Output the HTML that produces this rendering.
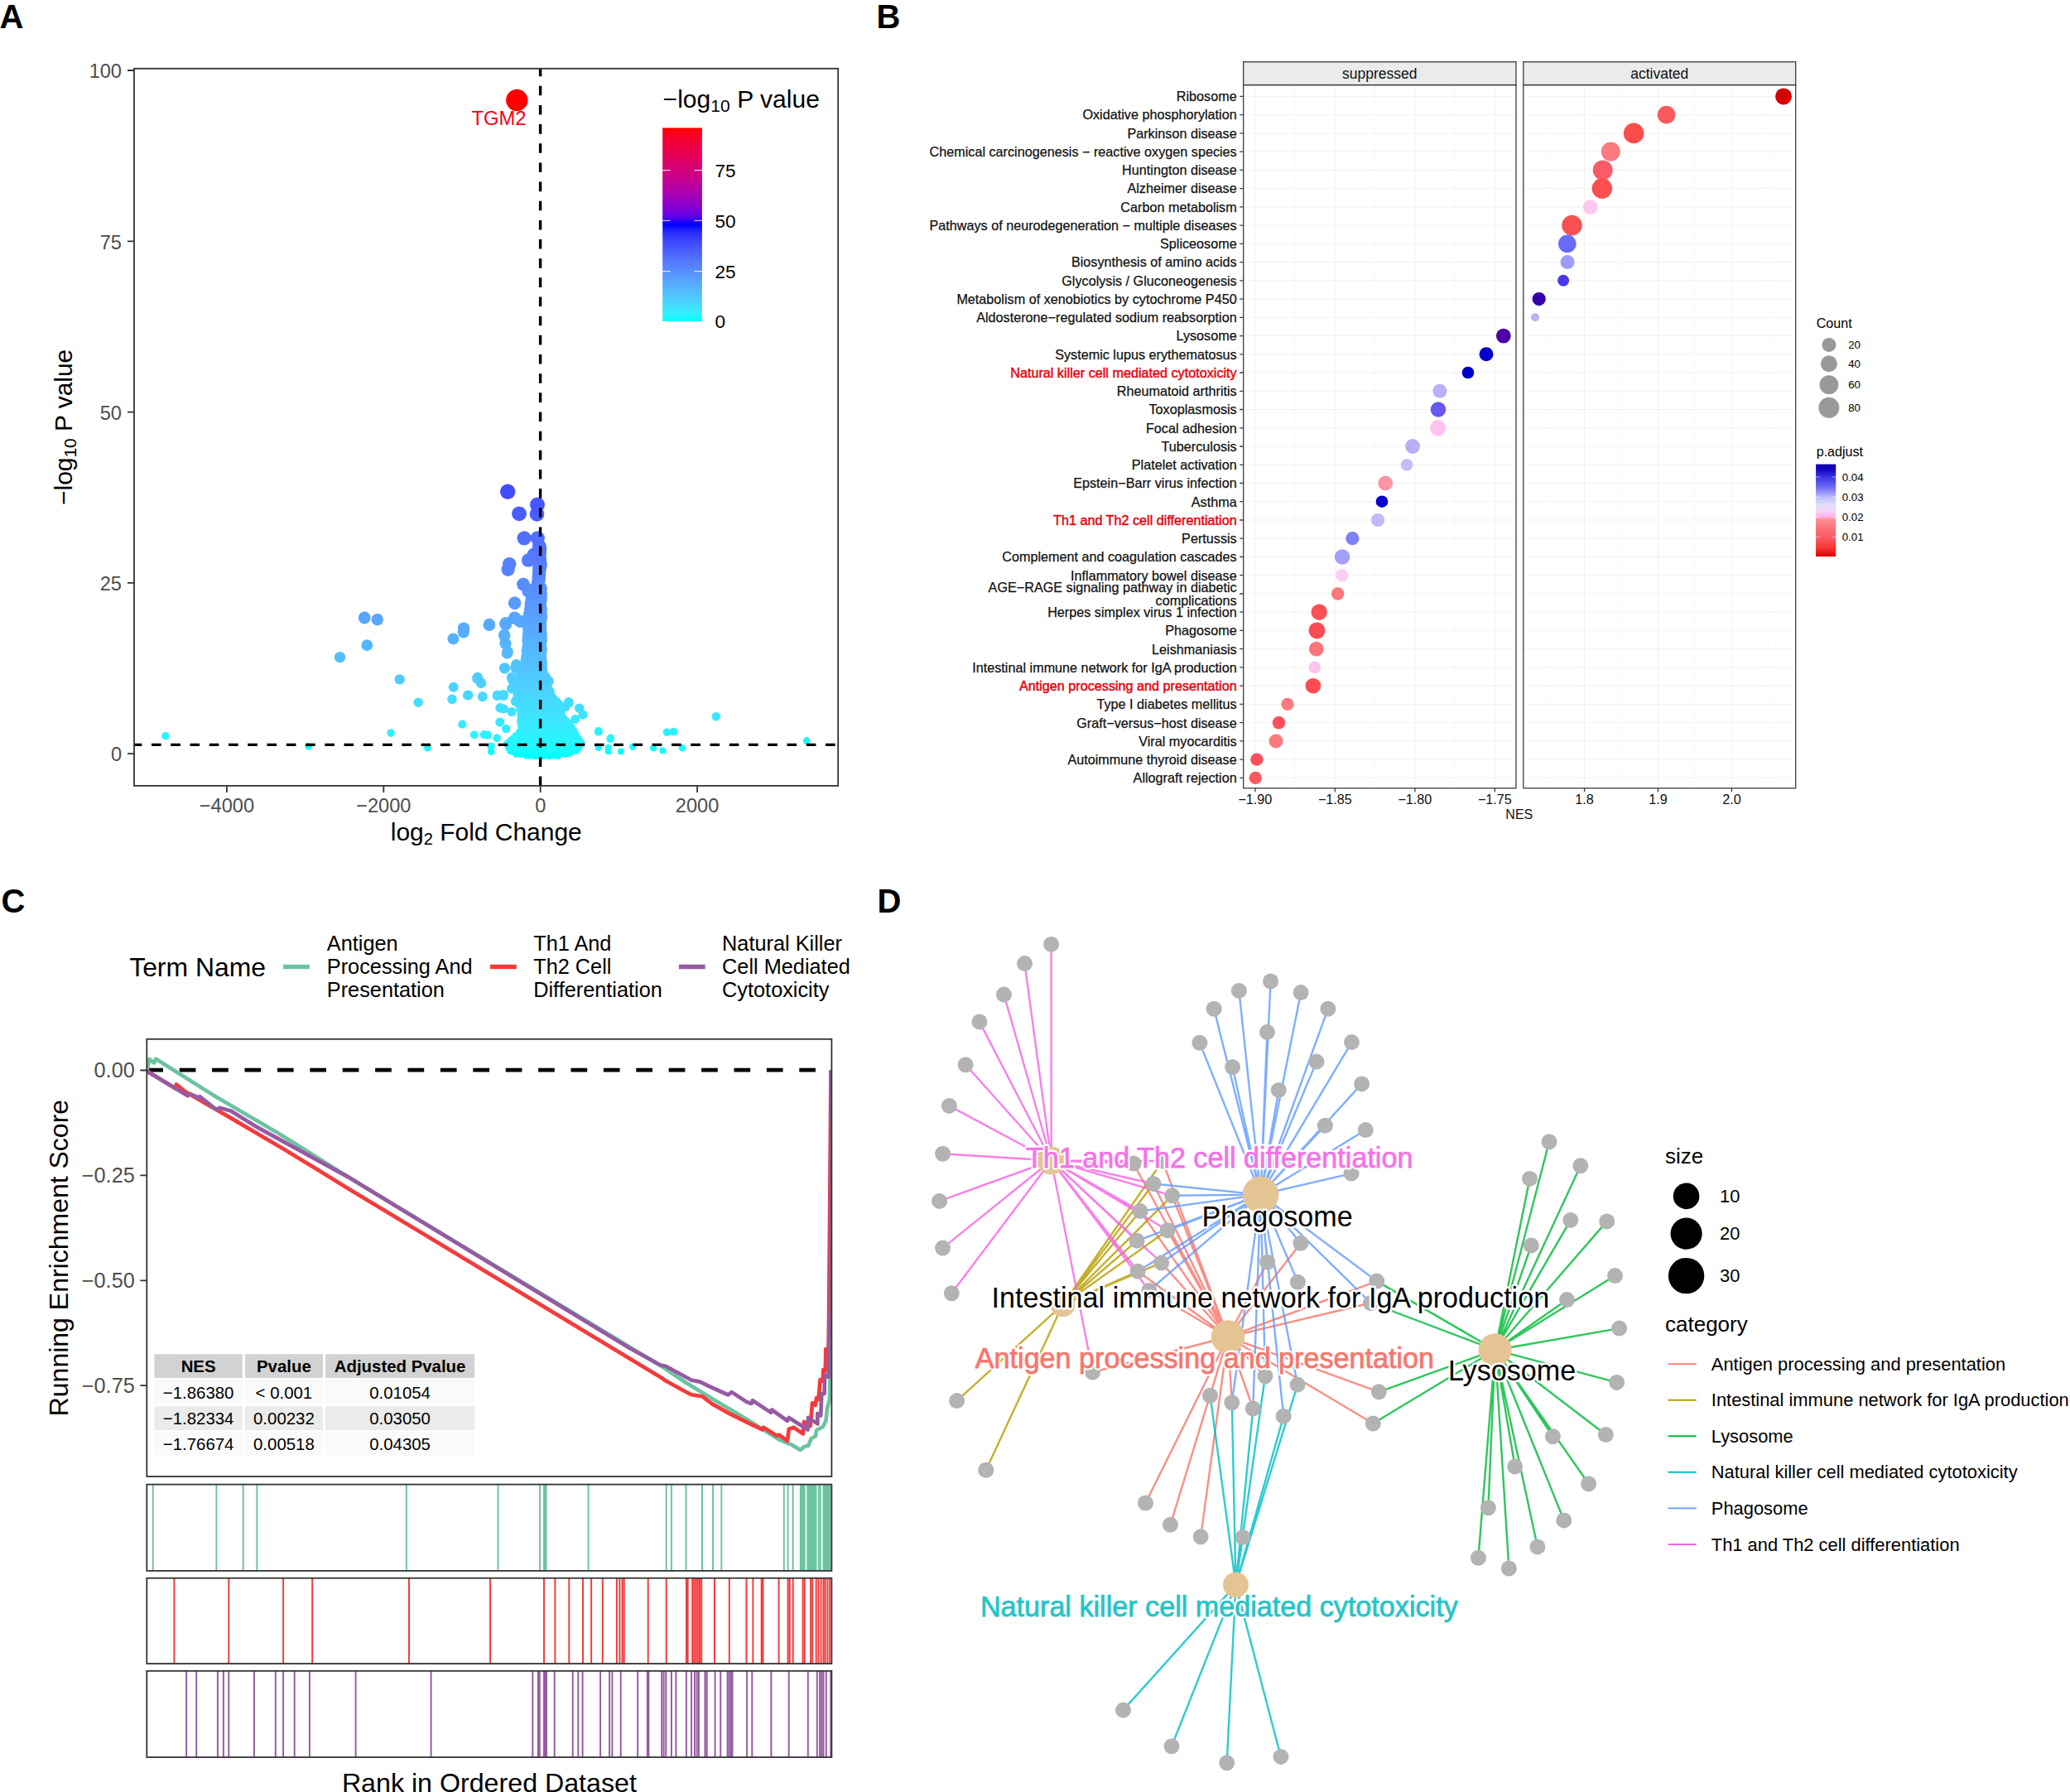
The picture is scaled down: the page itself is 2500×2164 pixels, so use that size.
<!DOCTYPE html>
<html lang="en"><head><meta charset="utf-8"><title>Figure</title>
<style>
html,body{margin:0;padding:0;background:#fff;}
body{width:2500px;height:2164px;overflow:hidden;}
svg{display:block;}
text{white-space:pre;}
</style></head><body>
<svg width="2500" height="2164" viewBox="0 0 2500 2164">
<defs><linearGradient id="gradA" x1="0" y1="0" x2="0" y2="1"><stop offset="0%" stop-color="#ff0000"/><stop offset="4.2%" stop-color="#f80025"/><stop offset="8.3%" stop-color="#f0003c"/><stop offset="12.5%" stop-color="#e80050"/><stop offset="16.7%" stop-color="#df0063"/><stop offset="20.8%" stop-color="#d50076"/><stop offset="25%" stop-color="#ca0088"/><stop offset="29.2%" stop-color="#bc009c"/><stop offset="33.3%" stop-color="#ad00af"/><stop offset="37.5%" stop-color="#9a00c3"/><stop offset="41.7%" stop-color="#8200d6"/><stop offset="45.8%" stop-color="#6000eb"/><stop offset="50%" stop-color="#0000ff"/><stop offset="54.2%" stop-color="#2b2dff"/><stop offset="58.3%" stop-color="#3d45ff"/><stop offset="62.5%" stop-color="#485aff"/><stop offset="66.7%" stop-color="#506dff"/><stop offset="70.8%" stop-color="#5580ff"/><stop offset="75%" stop-color="#5792ff"/><stop offset="79.2%" stop-color="#57a4ff"/><stop offset="83.3%" stop-color="#55b6ff"/><stop offset="87.5%" stop-color="#4fc8ff"/><stop offset="91.7%" stop-color="#45dbff"/><stop offset="95.8%" stop-color="#34edff"/><stop offset="100%" stop-color="#00ffff"/></linearGradient><clipPath id="clipA"><rect x="162" y="82.8" width="850.2" height="866.1"/></clipPath><linearGradient id="gradB" x1="0" y1="0" x2="0" y2="1"><stop offset="0%" stop-color="#0c00b0"/><stop offset="5%" stop-color="#1400c0"/><stop offset="14%" stop-color="#3c34e4"/><stop offset="25%" stop-color="#6c6cf4"/><stop offset="35.5%" stop-color="#bcbcfa"/><stop offset="43%" stop-color="#dcdcfc"/><stop offset="50%" stop-color="#f4d8fa"/><stop offset="56.5%" stop-color="#fdb4ea"/><stop offset="60%" stop-color="#fc9090"/><stop offset="70%" stop-color="#fb7078"/><stop offset="79%" stop-color="#fb5a62"/><stop offset="90%" stop-color="#f83838"/><stop offset="100%" stop-color="#e00000"/></linearGradient><clipPath id="clipC"><rect x="177.3" y="1254.8" width="827.1" height="528.2"/></clipPath></defs>
<rect width="2500" height="2164" fill="#fff"/>
<g id="panelA" font-family="'Liberation Sans', Arial, Helvetica, sans-serif">
<text x="-0.5" y="34" font-size="40" font-weight="bold" fill="#000">A</text>
<g clip-path="url(#clipA)">
<circle cx="663.2" cy="913.7" r="3.6" fill="#00ffff"/>
<circle cx="646.7" cy="913.6" r="3.6" fill="#00ffff"/>
<circle cx="656.3" cy="913.5" r="3.6" fill="#00ffff"/>
<circle cx="649.2" cy="913.5" r="3.6" fill="#00ffff"/>
<circle cx="653.7" cy="913.5" r="3.6" fill="#00ffff"/>
<circle cx="674.1" cy="913.4" r="3.6" fill="#00ffff"/>
<circle cx="639" cy="913.2" r="3.6" fill="#00ffff"/>
<circle cx="635.4" cy="913" r="3.6" fill="#00ffff"/>
<circle cx="642.8" cy="912.8" r="3.6" fill="#00ffff"/>
<circle cx="667.5" cy="912.6" r="3.6" fill="#00ffff"/>
<circle cx="670.4" cy="912.4" r="3.6" fill="#00ffff"/>
<circle cx="660.5" cy="912.2" r="3.6" fill="#00ffff"/>
<circle cx="653" cy="911.5" r="3.6" fill="#00ffff"/>
<circle cx="660.4" cy="911.3" r="3.6" fill="#00ffff"/>
<circle cx="636.3" cy="911.3" r="3.6" fill="#00ffff"/>
<circle cx="642.9" cy="911.2" r="3.6" fill="#00ffff"/>
<circle cx="629.6" cy="911.2" r="3.6" fill="#00ffff"/>
<circle cx="682.9" cy="911.2" r="3.6" fill="#00ffff"/>
<circle cx="623.2" cy="911.1" r="3.6" fill="#00ffff"/>
<circle cx="656.5" cy="911" r="3.6" fill="#00ffff"/>
<circle cx="647.1" cy="911" r="3.6" fill="#00ffff"/>
<circle cx="650" cy="910.9" r="3.6" fill="#00ffff"/>
<circle cx="633.8" cy="910.8" r="3.6" fill="#00ffff"/>
<circle cx="670.5" cy="910.6" r="3.6" fill="#00ffff"/>
<circle cx="663.4" cy="910.5" r="3.6" fill="#00ffff"/>
<circle cx="673.8" cy="910.4" r="3.6" fill="#00ffff"/>
<circle cx="626.4" cy="910.4" r="3.6" fill="#00ffff"/>
<circle cx="676.6" cy="910.4" r="3.6" fill="#00ffff"/>
<circle cx="686.5" cy="910.4" r="3.6" fill="#00ffff"/>
<circle cx="639.9" cy="910.3" r="3.6" fill="#00ffff"/>
<circle cx="680" cy="910.3" r="3.6" fill="#00ffff"/>
<circle cx="666.8" cy="910.2" r="3.6" fill="#00ffff"/>
<circle cx="679.9" cy="909.4" r="3.8" fill="#03ffff"/>
<circle cx="641.3" cy="909.4" r="3.8" fill="#03ffff"/>
<circle cx="669.6" cy="909.3" r="3.8" fill="#03ffff"/>
<circle cx="630.8" cy="909.3" r="3.8" fill="#03feff"/>
<circle cx="648" cy="909.1" r="3.8" fill="#04feff"/>
<circle cx="676.6" cy="909" r="3.8" fill="#05feff"/>
<circle cx="659.1" cy="908.9" r="3.8" fill="#05feff"/>
<circle cx="672.9" cy="908.9" r="3.8" fill="#05feff"/>
<circle cx="633.8" cy="908.8" r="3.8" fill="#05feff"/>
<circle cx="662.6" cy="908.8" r="3.8" fill="#05feff"/>
<circle cx="655" cy="908.7" r="3.8" fill="#06feff"/>
<circle cx="644.3" cy="908.7" r="3.8" fill="#06feff"/>
<circle cx="666.5" cy="908.6" r="3.8" fill="#06feff"/>
<circle cx="652.5" cy="908.6" r="3.8" fill="#06feff"/>
<circle cx="623.5" cy="908.5" r="3.8" fill="#06feff"/>
<circle cx="690.4" cy="908.5" r="3.8" fill="#07feff"/>
<circle cx="627.2" cy="908.5" r="3.8" fill="#07feff"/>
<circle cx="687.1" cy="908.4" r="3.8" fill="#07feff"/>
<circle cx="638.1" cy="908.4" r="3.8" fill="#07feff"/>
<circle cx="620.1" cy="908.2" r="3.9" fill="#08feff"/>
<circle cx="683.7" cy="907.9" r="3.9" fill="#09feff"/>
<circle cx="592.9" cy="907.8" r="3.9" fill="#09feff"/>
<circle cx="734.7" cy="907.4" r="3.9" fill="#0bfdff"/>
<circle cx="749.7" cy="907.4" r="3.9" fill="#0bfdff"/>
<circle cx="593.5" cy="907.4" r="3.9" fill="#0bfdff"/>
<circle cx="616.2" cy="907.1" r="3.9" fill="#0cfdff"/>
<circle cx="673" cy="907" r="4" fill="#0cfdff"/>
<circle cx="624.7" cy="906.9" r="4" fill="#0cfdff"/>
<circle cx="642.7" cy="906.9" r="4" fill="#0cfdff"/>
<circle cx="665.4" cy="906.8" r="4" fill="#0dfdff"/>
<circle cx="657.7" cy="906.8" r="4" fill="#0dfdff"/>
<circle cx="695.5" cy="906.7" r="4" fill="#0dfdff"/>
<circle cx="676.8" cy="906.7" r="4" fill="#0dfdff"/>
<circle cx="680.7" cy="906.7" r="4" fill="#0dfdff"/>
<circle cx="631.2" cy="906.6" r="4" fill="#0dfdff"/>
<circle cx="687.5" cy="906.6" r="4" fill="#0dfdff"/>
<circle cx="653.6" cy="906.6" r="4" fill="#0dfdff"/>
<circle cx="800.4" cy="906.5" r="4" fill="#0efdff"/>
<circle cx="646.8" cy="906.4" r="4" fill="#0efdff"/>
<circle cx="650.5" cy="906.3" r="4" fill="#0efdff"/>
<circle cx="684.2" cy="906.3" r="4" fill="#0efdff"/>
<circle cx="628.1" cy="906.3" r="4" fill="#0efdff"/>
<circle cx="662" cy="906.3" r="4" fill="#0efdff"/>
<circle cx="691" cy="906.3" r="4" fill="#0efdff"/>
<circle cx="619.9" cy="906.2" r="4" fill="#0efdff"/>
<circle cx="668.9" cy="906" r="4" fill="#0ffdff"/>
<circle cx="634.9" cy="905.9" r="4" fill="#0ffdff"/>
<circle cx="638.9" cy="905.7" r="4" fill="#10fcff"/>
<circle cx="633.8" cy="904.8" r="4.1" fill="#12fcff"/>
<circle cx="679" cy="904.7" r="4.1" fill="#12fcff"/>
<circle cx="652.2" cy="904.7" r="4.1" fill="#12fcff"/>
<circle cx="641.4" cy="904.6" r="4.1" fill="#13fcff"/>
<circle cx="656.5" cy="904.6" r="4.1" fill="#13fcff"/>
<circle cx="698" cy="904.6" r="4.1" fill="#13fcff"/>
<circle cx="645.4" cy="904.4" r="4.1" fill="#13fcff"/>
<circle cx="664.1" cy="904.3" r="4.1" fill="#13fcff"/>
<circle cx="630.7" cy="904.2" r="4.1" fill="#14fcff"/>
<circle cx="667.1" cy="904.1" r="4.1" fill="#14fcff"/>
<circle cx="637.3" cy="904.1" r="4.1" fill="#14fcff"/>
<circle cx="659.7" cy="904.1" r="4.1" fill="#14fcff"/>
<circle cx="615.1" cy="904" r="4.1" fill="#14fcff"/>
<circle cx="648.7" cy="903.9" r="4.1" fill="#14fcff"/>
<circle cx="685.9" cy="903.9" r="4.1" fill="#14fcff"/>
<circle cx="674.7" cy="903.9" r="4.1" fill="#14fbff"/>
<circle cx="626.1" cy="903.8" r="4.1" fill="#15fbff"/>
<circle cx="671.8" cy="903.8" r="4.1" fill="#15fbff"/>
<circle cx="693.5" cy="903.7" r="4.1" fill="#15fbff"/>
<circle cx="690" cy="903.7" r="4.1" fill="#15fbff"/>
<circle cx="682.1" cy="903.6" r="4.1" fill="#15fbff"/>
<circle cx="619.4" cy="903.5" r="4.1" fill="#15fbff"/>
<circle cx="623.2" cy="903.4" r="4.2" fill="#15fbff"/>
<circle cx="789.1" cy="903.3" r="4.2" fill="#16fbff"/>
<circle cx="823.9" cy="903.3" r="4.2" fill="#16fbff"/>
<circle cx="516.3" cy="903.2" r="4.2" fill="#16fbff"/>
<circle cx="722.9" cy="902.9" r="4.2" fill="#16fbff"/>
<circle cx="734.7" cy="902.9" r="4.2" fill="#16fbff"/>
<circle cx="657.1" cy="902.8" r="4.2" fill="#17fbff"/>
<circle cx="675.8" cy="902.7" r="4.2" fill="#17fbff"/>
<circle cx="672" cy="902.5" r="4.2" fill="#17fbff"/>
<circle cx="664.5" cy="902.5" r="4.2" fill="#17fbff"/>
<circle cx="691" cy="902.5" r="4.2" fill="#17fbff"/>
<circle cx="695.6" cy="902.5" r="4.2" fill="#17fbff"/>
<circle cx="633.5" cy="902.4" r="4.2" fill="#17fbff"/>
<circle cx="614" cy="902.3" r="4.2" fill="#18fbff"/>
<circle cx="637.2" cy="902.3" r="4.2" fill="#18fbff"/>
<circle cx="687.2" cy="902.2" r="4.2" fill="#18fbff"/>
<circle cx="626.2" cy="902.2" r="4.2" fill="#18fbff"/>
<circle cx="622.5" cy="902" r="4.2" fill="#18faff"/>
<circle cx="684.1" cy="902" r="4.2" fill="#18faff"/>
<circle cx="668" cy="902" r="4.2" fill="#18faff"/>
<circle cx="660" cy="902" r="4.2" fill="#18faff"/>
<circle cx="629.1" cy="901.9" r="4.2" fill="#18faff"/>
<circle cx="764.2" cy="901.8" r="4.2" fill="#19faff"/>
<circle cx="699.4" cy="901.8" r="4.2" fill="#19faff"/>
<circle cx="617.9" cy="901.7" r="4.2" fill="#19faff"/>
<circle cx="641.3" cy="901.5" r="4.2" fill="#19faff"/>
<circle cx="679.7" cy="901.5" r="4.2" fill="#19faff"/>
<circle cx="652.3" cy="901.5" r="4.2" fill="#19faff"/>
<circle cx="649.4" cy="901.5" r="4.2" fill="#19faff"/>
<circle cx="645.6" cy="901.3" r="4.3" fill="#19faff"/>
<circle cx="372.6" cy="901.3" r="4.3" fill="#1afaff"/>
<circle cx="592.4" cy="901.3" r="4.3" fill="#1afaff"/>
<circle cx="593.5" cy="900.7" r="4.3" fill="#1bfaff"/>
<circle cx="665.6" cy="900.5" r="4.3" fill="#1bfaff"/>
<circle cx="628.7" cy="900.5" r="4.3" fill="#1bfaff"/>
<circle cx="620.7" cy="900.5" r="4.3" fill="#1bfaff"/>
<circle cx="657.5" cy="900.4" r="4.3" fill="#1bfaff"/>
<circle cx="660.6" cy="900.4" r="4.3" fill="#1bfaff"/>
<circle cx="681.3" cy="900.3" r="4.3" fill="#1bfaff"/>
<circle cx="653" cy="900.3" r="4.3" fill="#1bf9ff"/>
<circle cx="677.6" cy="900.3" r="4.3" fill="#1bf9ff"/>
<circle cx="645.4" cy="900.2" r="4.3" fill="#1bf9ff"/>
<circle cx="641.4" cy="900" r="4.3" fill="#1cf9ff"/>
<circle cx="616.9" cy="900" r="4.3" fill="#1cf9ff"/>
<circle cx="648.7" cy="899.9" r="4.3" fill="#1cf9ff"/>
<circle cx="696.9" cy="899.7" r="4.3" fill="#1cf9ff"/>
<circle cx="613.3" cy="899.5" r="4.3" fill="#1df9ff"/>
<circle cx="685.3" cy="899.5" r="4.3" fill="#1df9ff"/>
<circle cx="700.5" cy="899.4" r="4.3" fill="#1df9ff"/>
<circle cx="668.7" cy="899.3" r="4.3" fill="#1df9ff"/>
<circle cx="693.4" cy="899.3" r="4.3" fill="#1df9ff"/>
<circle cx="633" cy="899.2" r="4.3" fill="#1df9ff"/>
<circle cx="688.6" cy="899.2" r="4.3" fill="#1df9ff"/>
<circle cx="636.6" cy="899.1" r="4.3" fill="#1df9ff"/>
<circle cx="672.7" cy="899.1" r="4.3" fill="#1df9ff"/>
<circle cx="624.8" cy="899" r="4.3" fill="#1df9ff"/>
<circle cx="690.3" cy="898.4" r="4.4" fill="#1ef8ff"/>
<circle cx="670.1" cy="898.3" r="4.4" fill="#1ef8ff"/>
<circle cx="681.7" cy="898.3" r="4.4" fill="#1ef8ff"/>
<circle cx="698.5" cy="898.2" r="4.4" fill="#1ff8ff"/>
<circle cx="637.5" cy="898.2" r="4.4" fill="#1ff8ff"/>
<circle cx="612.3" cy="898.2" r="4.4" fill="#1ff8ff"/>
<circle cx="694.1" cy="898.1" r="4.4" fill="#1ff8ff"/>
<circle cx="633" cy="898" r="4.4" fill="#1ff8ff"/>
<circle cx="702.2" cy="898" r="4.4" fill="#1ff8ff"/>
<circle cx="686.2" cy="897.9" r="4.4" fill="#1ff8ff"/>
<circle cx="653.2" cy="897.8" r="4.4" fill="#1ff8ff"/>
<circle cx="649.8" cy="897.6" r="4.4" fill="#1ff8ff"/>
<circle cx="617.2" cy="897.5" r="4.4" fill="#20f8ff"/>
<circle cx="621.3" cy="897.5" r="4.4" fill="#20f8ff"/>
<circle cx="645.4" cy="897.5" r="4.4" fill="#20f8ff"/>
<circle cx="678.4" cy="897.3" r="4.4" fill="#20f8ff"/>
<circle cx="674.1" cy="897.3" r="4.4" fill="#20f8ff"/>
<circle cx="641.6" cy="897.2" r="4.4" fill="#20f8ff"/>
<circle cx="665.4" cy="897.2" r="4.4" fill="#20f8ff"/>
<circle cx="658.1" cy="897.1" r="4.4" fill="#20f8ff"/>
<circle cx="624.7" cy="897" r="4.4" fill="#20f8ff"/>
<circle cx="628.8" cy="896.9" r="4.4" fill="#20f8ff"/>
<circle cx="662.1" cy="896.8" r="4.4" fill="#21f8ff"/>
<circle cx="619" cy="896.1" r="4.5" fill="#22f7ff"/>
<circle cx="655.7" cy="896" r="4.5" fill="#22f7ff"/>
<circle cx="696" cy="896" r="4.5" fill="#22f7ff"/>
<circle cx="632.1" cy="895.9" r="4.5" fill="#22f7ff"/>
<circle cx="667.6" cy="895.8" r="4.5" fill="#22f7ff"/>
<circle cx="652.4" cy="895.8" r="4.5" fill="#22f7ff"/>
<circle cx="700.9" cy="895.7" r="4.5" fill="#22f7ff"/>
<circle cx="639.2" cy="895.6" r="4.5" fill="#22f7ff"/>
<circle cx="684.4" cy="895.6" r="4.5" fill="#22f7ff"/>
<circle cx="627.1" cy="895.6" r="4.5" fill="#22f7ff"/>
<circle cx="679.9" cy="895.6" r="4.5" fill="#22f7ff"/>
<circle cx="671.6" cy="895.5" r="4.5" fill="#22f7ff"/>
<circle cx="659.5" cy="895.5" r="4.5" fill="#22f7ff"/>
<circle cx="615.6" cy="895.4" r="4.5" fill="#22f7ff"/>
<circle cx="648" cy="895.3" r="4.5" fill="#23f7ff"/>
<circle cx="643.9" cy="895.2" r="4.5" fill="#23f7ff"/>
<circle cx="692.2" cy="895.1" r="4.5" fill="#23f7ff"/>
<circle cx="635.6" cy="895" r="4.5" fill="#23f7ff"/>
<circle cx="664" cy="895" r="4.5" fill="#23f7ff"/>
<circle cx="688.8" cy="894.9" r="4.5" fill="#23f6ff"/>
<circle cx="623.2" cy="894.8" r="4.5" fill="#23f6ff"/>
<circle cx="676.8" cy="894.8" r="4.5" fill="#23f6ff"/>
<circle cx="974.3" cy="894.6" r="4.5" fill="#24f6ff"/>
<circle cx="617.5" cy="894" r="4.5" fill="#24f6ff"/>
<circle cx="652.2" cy="894" r="4.5" fill="#24f6ff"/>
<circle cx="673.3" cy="893.8" r="4.5" fill="#24f6ff"/>
<circle cx="634.8" cy="893.6" r="4.5" fill="#25f6ff"/>
<circle cx="656.4" cy="893.5" r="4.6" fill="#25f6ff"/>
<circle cx="694.2" cy="893.3" r="4.6" fill="#25f6ff"/>
<circle cx="631.3" cy="893.3" r="4.6" fill="#25f6ff"/>
<circle cx="669.2" cy="893.1" r="4.6" fill="#25f5ff"/>
<circle cx="622.4" cy="893" r="4.6" fill="#25f5ff"/>
<circle cx="689.9" cy="893" r="4.6" fill="#25f5ff"/>
<circle cx="685.5" cy="893" r="4.6" fill="#25f5ff"/>
<circle cx="626.8" cy="892.8" r="4.6" fill="#26f5ff"/>
<circle cx="648.1" cy="892.8" r="4.6" fill="#26f5ff"/>
<circle cx="677.1" cy="892.8" r="4.6" fill="#26f5ff"/>
<circle cx="698.9" cy="892.7" r="4.6" fill="#26f5ff"/>
<circle cx="639.2" cy="892.7" r="4.6" fill="#26f5ff"/>
<circle cx="664.2" cy="892.6" r="4.6" fill="#26f5ff"/>
<circle cx="643.8" cy="892.5" r="4.6" fill="#26f5ff"/>
<circle cx="682" cy="892.4" r="4.6" fill="#26f5ff"/>
<circle cx="660.3" cy="892.4" r="4.6" fill="#26f5ff"/>
<circle cx="737" cy="892.4" r="4.6" fill="#26f5ff"/>
<circle cx="620.1" cy="891.8" r="4.6" fill="#27f5ff"/>
<circle cx="624.8" cy="891.7" r="4.6" fill="#27f5ff"/>
<circle cx="671.2" cy="891.7" r="4.6" fill="#27f5ff"/>
<circle cx="633.6" cy="891.7" r="4.6" fill="#27f5ff"/>
<circle cx="654.6" cy="891.7" r="4.6" fill="#27f5ff"/>
<circle cx="676.1" cy="891.6" r="4.6" fill="#27f5ff"/>
<circle cx="697.2" cy="891.6" r="4.6" fill="#27f5ff"/>
<circle cx="679.7" cy="891.5" r="4.6" fill="#27f5ff"/>
<circle cx="600.1" cy="891.4" r="4.6" fill="#27f5ff"/>
<circle cx="600.2" cy="891.2" r="4.6" fill="#27f4ff"/>
<circle cx="737.5" cy="891.2" r="4.6" fill="#27f4ff"/>
<circle cx="693.3" cy="891.1" r="4.6" fill="#28f4ff"/>
<circle cx="683.9" cy="891" r="4.6" fill="#28f4ff"/>
<circle cx="688.8" cy="890.8" r="4.6" fill="#28f4ff"/>
<circle cx="637" cy="890.8" r="4.6" fill="#28f4ff"/>
<circle cx="663.1" cy="890.7" r="4.6" fill="#28f4ff"/>
<circle cx="646.5" cy="890.6" r="4.6" fill="#28f4ff"/>
<circle cx="658.5" cy="890.6" r="4.6" fill="#28f4ff"/>
<circle cx="666.8" cy="890.5" r="4.7" fill="#28f4ff"/>
<circle cx="629.5" cy="890.5" r="4.7" fill="#28f4ff"/>
<circle cx="642.1" cy="890.5" r="4.7" fill="#28f4ff"/>
<circle cx="650.7" cy="890.4" r="4.7" fill="#28f4ff"/>
<circle cx="691.8" cy="889.6" r="4.7" fill="#29f4ff"/>
<circle cx="696" cy="889.3" r="4.7" fill="#29f3ff"/>
<circle cx="644.7" cy="889.2" r="4.7" fill="#2af3ff"/>
<circle cx="674.6" cy="889.2" r="4.7" fill="#2af3ff"/>
<circle cx="627.2" cy="889.1" r="4.7" fill="#2af3ff"/>
<circle cx="635.3" cy="889" r="4.7" fill="#2af3ff"/>
<circle cx="623" cy="888.9" r="4.7" fill="#2af3ff"/>
<circle cx="199.9" cy="888.7" r="4.7" fill="#2af3ff"/>
<circle cx="661" cy="888.7" r="4.7" fill="#2af3ff"/>
<circle cx="631.5" cy="888.7" r="4.7" fill="#2af3ff"/>
<circle cx="656.8" cy="888.7" r="4.7" fill="#2af3ff"/>
<circle cx="682.9" cy="888.6" r="4.7" fill="#2af3ff"/>
<circle cx="640.1" cy="888.4" r="4.7" fill="#2af3ff"/>
<circle cx="648.6" cy="888.3" r="4.7" fill="#2af3ff"/>
<circle cx="687.7" cy="888.2" r="4.7" fill="#2bf3ff"/>
<circle cx="652.9" cy="888.2" r="4.7" fill="#2bf3ff"/>
<circle cx="670.2" cy="888.1" r="4.7" fill="#2bf3ff"/>
<circle cx="678.6" cy="888.1" r="4.7" fill="#2bf3ff"/>
<circle cx="665.8" cy="888.1" r="4.7" fill="#2bf3ff"/>
<circle cx="589.2" cy="888" r="4.7" fill="#2bf3ff"/>
<circle cx="572.8" cy="887.5" r="4.7" fill="#2bf2ff"/>
<circle cx="584.4" cy="887.5" r="4.7" fill="#2bf2ff"/>
<circle cx="626.1" cy="887.4" r="4.8" fill="#2bf2ff"/>
<circle cx="572.8" cy="887.3" r="4.8" fill="#2bf2ff"/>
<circle cx="589" cy="887.3" r="4.8" fill="#2bf2ff"/>
<circle cx="673.3" cy="887.2" r="4.8" fill="#2bf2ff"/>
<circle cx="651.3" cy="887.2" r="4.8" fill="#2cf2ff"/>
<circle cx="639" cy="886.8" r="4.8" fill="#2cf2ff"/>
<circle cx="584.6" cy="886.8" r="4.8" fill="#2cf2ff"/>
<circle cx="676.7" cy="886.7" r="4.8" fill="#2cf2ff"/>
<circle cx="690.3" cy="886.7" r="4.8" fill="#2cf2ff"/>
<circle cx="659.7" cy="886.4" r="4.8" fill="#2cf2ff"/>
<circle cx="634.7" cy="886.4" r="4.8" fill="#2cf2ff"/>
<circle cx="664.4" cy="886.4" r="4.8" fill="#2cf2ff"/>
<circle cx="694.7" cy="886.3" r="4.8" fill="#2cf2ff"/>
<circle cx="668.2" cy="886.2" r="4.8" fill="#2cf2ff"/>
<circle cx="647.5" cy="886.2" r="4.8" fill="#2df2ff"/>
<circle cx="656.1" cy="886.1" r="4.8" fill="#2df2ff"/>
<circle cx="643.2" cy="886.1" r="4.8" fill="#2df2ff"/>
<circle cx="686.3" cy="886" r="4.8" fill="#2df2ff"/>
<circle cx="629.9" cy="885.9" r="4.8" fill="#2df1ff"/>
<circle cx="681.9" cy="885.9" r="4.8" fill="#2df1ff"/>
<circle cx="689.1" cy="885.1" r="4.8" fill="#2df1ff"/>
<circle cx="472.1" cy="885.1" r="4.8" fill="#2df1ff"/>
<circle cx="679.4" cy="885.1" r="4.8" fill="#2df1ff"/>
<circle cx="660.9" cy="885.1" r="4.8" fill="#2ef1ff"/>
<circle cx="636.9" cy="885" r="4.8" fill="#2ef1ff"/>
<circle cx="646.7" cy="885" r="4.8" fill="#2ef1ff"/>
<circle cx="642" cy="884.9" r="4.8" fill="#2ef1ff"/>
<circle cx="664.9" cy="884.6" r="4.8" fill="#2ef1ff"/>
<circle cx="655.5" cy="884.5" r="4.8" fill="#2ef1ff"/>
<circle cx="669.9" cy="884.4" r="4.8" fill="#2ef1ff"/>
<circle cx="683.6" cy="884.4" r="4.8" fill="#2ef1ff"/>
<circle cx="805.4" cy="884.3" r="4.8" fill="#2ef1ff"/>
<circle cx="674.3" cy="884.1" r="4.8" fill="#2ef0ff"/>
<circle cx="633.1" cy="883.9" r="4.9" fill="#2ff0ff"/>
<circle cx="628" cy="883.9" r="4.9" fill="#2ff0ff"/>
<circle cx="651.4" cy="883.9" r="4.9" fill="#2ff0ff"/>
<circle cx="693" cy="883.8" r="4.9" fill="#2ff0ff"/>
<circle cx="813.5" cy="883.7" r="4.9" fill="#2ff0ff"/>
<circle cx="722.8" cy="883.7" r="4.9" fill="#2ff0ff"/>
<circle cx="692.6" cy="883" r="4.9" fill="#2ff0ff"/>
<circle cx="677.8" cy="882.9" r="4.9" fill="#2ff0ff"/>
<circle cx="722.9" cy="882.9" r="4.9" fill="#2ff0ff"/>
<circle cx="668.1" cy="882.5" r="4.9" fill="#30f0ff"/>
<circle cx="682.5" cy="882.3" r="4.9" fill="#30f0ff"/>
<circle cx="658.9" cy="882.3" r="4.9" fill="#30efff"/>
<circle cx="650" cy="882.3" r="4.9" fill="#30efff"/>
<circle cx="687.3" cy="882.1" r="4.9" fill="#30efff"/>
<circle cx="634.8" cy="881.9" r="4.9" fill="#30efff"/>
<circle cx="673.2" cy="881.9" r="4.9" fill="#30efff"/>
<circle cx="630.9" cy="881.7" r="4.9" fill="#30efff"/>
<circle cx="644.6" cy="881.7" r="4.9" fill="#30efff"/>
<circle cx="640.4" cy="881.7" r="4.9" fill="#30efff"/>
<circle cx="653.8" cy="881.6" r="4.9" fill="#31efff"/>
<circle cx="664" cy="881.5" r="4.9" fill="#31efff"/>
<circle cx="640.2" cy="880.7" r="4.9" fill="#31efff"/>
<circle cx="635.1" cy="880.5" r="4.9" fill="#31efff"/>
<circle cx="667.3" cy="880.4" r="4.9" fill="#31eeff"/>
<circle cx="677" cy="880.2" r="5" fill="#32eeff"/>
<circle cx="690.5" cy="880.2" r="5" fill="#32eeff"/>
<circle cx="654.2" cy="880.1" r="5" fill="#32eeff"/>
<circle cx="611.3" cy="880.1" r="5" fill="#32eeff"/>
<circle cx="611" cy="880" r="5" fill="#32eeff"/>
<circle cx="663.4" cy="879.9" r="5" fill="#32eeff"/>
<circle cx="658.8" cy="879.8" r="5" fill="#32eeff"/>
<circle cx="681.2" cy="879.8" r="5" fill="#32eeff"/>
<circle cx="643.8" cy="879.7" r="5" fill="#32eeff"/>
<circle cx="685.7" cy="879.5" r="5" fill="#32eeff"/>
<circle cx="648.6" cy="879.5" r="5" fill="#32eeff"/>
<circle cx="672.8" cy="879.4" r="5" fill="#32eeff"/>
<circle cx="631" cy="879.4" r="5" fill="#32eeff"/>
<circle cx="680.1" cy="878.6" r="5" fill="#33edff"/>
<circle cx="670.7" cy="878.4" r="5" fill="#33edff"/>
<circle cx="644" cy="878.4" r="5" fill="#33edff"/>
<circle cx="639.2" cy="878.1" r="5" fill="#33edff"/>
<circle cx="689.7" cy="878" r="5" fill="#33edff"/>
<circle cx="630.2" cy="877.7" r="5" fill="#34edff"/>
<circle cx="634.2" cy="877.7" r="5" fill="#34edff"/>
<circle cx="657.5" cy="877.6" r="5" fill="#34edff"/>
<circle cx="675.7" cy="877.5" r="5" fill="#34edff"/>
<circle cx="653.2" cy="877.5" r="5" fill="#34edff"/>
<circle cx="666.2" cy="877.4" r="5" fill="#34edff"/>
<circle cx="684.8" cy="877.4" r="5" fill="#34edff"/>
<circle cx="662.2" cy="877.3" r="5" fill="#34edff"/>
<circle cx="648.4" cy="877.2" r="5" fill="#34edff"/>
<circle cx="678.6" cy="876.4" r="5.1" fill="#34ecff"/>
<circle cx="673.1" cy="876.4" r="5.1" fill="#34ecff"/>
<circle cx="639.6" cy="876" r="5.1" fill="#35ecff"/>
<circle cx="658.3" cy="876" r="5.1" fill="#35ecff"/>
<circle cx="634.7" cy="876" r="5.1" fill="#35ecff"/>
<circle cx="667.9" cy="875.7" r="5.1" fill="#35ecff"/>
<circle cx="687.4" cy="875.6" r="5.1" fill="#35ecff"/>
<circle cx="648.7" cy="875.4" r="5.1" fill="#35ecff"/>
<circle cx="644.2" cy="875.3" r="5.1" fill="#35ecff"/>
<circle cx="630" cy="875.1" r="5.1" fill="#35ecff"/>
<circle cx="682.8" cy="874.9" r="5.1" fill="#35ebff"/>
<circle cx="654.2" cy="874.9" r="5.1" fill="#36ebff"/>
<circle cx="663.3" cy="874.9" r="5.1" fill="#36ebff"/>
<circle cx="558.3" cy="874.7" r="5.1" fill="#36ebff"/>
<circle cx="677.2" cy="874.1" r="5.1" fill="#36ebff"/>
<circle cx="634.3" cy="874" r="5.1" fill="#36ebff"/>
<circle cx="657.1" cy="873.8" r="5.1" fill="#36ebff"/>
<circle cx="647.9" cy="873.7" r="5.1" fill="#36ebff"/>
<circle cx="662.9" cy="873.6" r="5.1" fill="#36ebff"/>
<circle cx="644" cy="873.6" r="5.1" fill="#36ebff"/>
<circle cx="686.1" cy="873.4" r="5.1" fill="#37ebff"/>
<circle cx="671.6" cy="873.4" r="5.1" fill="#37ebff"/>
<circle cx="652.7" cy="873" r="5.1" fill="#37eaff"/>
<circle cx="638.5" cy="873" r="5.1" fill="#37eaff"/>
<circle cx="629.7" cy="873" r="5.1" fill="#37eaff"/>
<circle cx="681.3" cy="873" r="5.1" fill="#37eaff"/>
<circle cx="667.7" cy="872.6" r="5.2" fill="#37eaff"/>
<circle cx="603.5" cy="872.3" r="5.2" fill="#37eaff"/>
<circle cx="658.9" cy="871.9" r="5.2" fill="#38eaff"/>
<circle cx="644.1" cy="871.7" r="5.2" fill="#38eaff"/>
<circle cx="673.7" cy="871.7" r="5.2" fill="#38eaff"/>
<circle cx="604" cy="871.6" r="5.2" fill="#38eaff"/>
<circle cx="653.6" cy="871.2" r="5.2" fill="#38e9ff"/>
<circle cx="649.6" cy="871.1" r="5.2" fill="#38e9ff"/>
<circle cx="663.6" cy="871" r="5.2" fill="#38e9ff"/>
<circle cx="629.3" cy="871" r="5.2" fill="#38e9ff"/>
<circle cx="640" cy="870.7" r="5.2" fill="#38e9ff"/>
<circle cx="635" cy="870.6" r="5.2" fill="#38e9ff"/>
<circle cx="683.1" cy="870.5" r="5.2" fill="#38e9ff"/>
<circle cx="679" cy="870.5" r="5.2" fill="#38e9ff"/>
<circle cx="669.4" cy="870.4" r="5.2" fill="#38e9ff"/>
<circle cx="650.7" cy="869.8" r="5.2" fill="#39e9ff"/>
<circle cx="629.6" cy="869.8" r="5.2" fill="#39e9ff"/>
<circle cx="660.2" cy="869.7" r="5.2" fill="#39e9ff"/>
<circle cx="645.8" cy="869.6" r="5.2" fill="#39e8ff"/>
<circle cx="639.6" cy="868.8" r="5.2" fill="#39e8ff"/>
<circle cx="671" cy="868.8" r="5.2" fill="#39e8ff"/>
<circle cx="675.8" cy="868.7" r="5.2" fill="#3ae8ff"/>
<circle cx="656" cy="868.7" r="5.2" fill="#3ae8ff"/>
<circle cx="694.6" cy="868.5" r="5.3" fill="#3ae8ff"/>
<circle cx="695" cy="868.3" r="5.3" fill="#3ae8ff"/>
<circle cx="634.6" cy="868.3" r="5.3" fill="#3ae8ff"/>
<circle cx="666" cy="868.3" r="5.3" fill="#3ae8ff"/>
<circle cx="680.6" cy="868.2" r="5.3" fill="#3ae8ff"/>
<circle cx="659.1" cy="867.5" r="5.3" fill="#3ae7ff"/>
<circle cx="674" cy="867.5" r="5.3" fill="#3ae7ff"/>
<circle cx="654.1" cy="867.2" r="5.3" fill="#3ae7ff"/>
<circle cx="635.5" cy="867.2" r="5.3" fill="#3ae7ff"/>
<circle cx="668.7" cy="866.7" r="5.3" fill="#3be7ff"/>
<circle cx="678.2" cy="866.6" r="5.3" fill="#3be7ff"/>
<circle cx="645.4" cy="866.5" r="5.3" fill="#3be7ff"/>
<circle cx="650" cy="866.4" r="5.3" fill="#3be7ff"/>
<circle cx="640" cy="866.3" r="5.3" fill="#3be7ff"/>
<circle cx="630.5" cy="866.3" r="5.3" fill="#3be7ff"/>
<circle cx="664.1" cy="866.3" r="5.3" fill="#3be7ff"/>
<circle cx="667.7" cy="865.3" r="5.3" fill="#3ce6ff"/>
<circle cx="864.8" cy="865.2" r="5.3" fill="#3ce6ff"/>
<circle cx="646.8" cy="864.9" r="5.3" fill="#3ce6ff"/>
<circle cx="656.8" cy="864.9" r="5.3" fill="#3ce6ff"/>
<circle cx="630.9" cy="864.8" r="5.3" fill="#3ce6ff"/>
<circle cx="636.1" cy="864.6" r="5.3" fill="#3ce6ff"/>
<circle cx="677.9" cy="864.5" r="5.3" fill="#3ce6ff"/>
<circle cx="662.1" cy="864.2" r="5.4" fill="#3ce6ff"/>
<circle cx="640.6" cy="864.2" r="5.4" fill="#3ce5ff"/>
<circle cx="672.4" cy="863.9" r="5.4" fill="#3ce5ff"/>
<circle cx="651.3" cy="863.8" r="5.4" fill="#3ce5ff"/>
<circle cx="704" cy="863.3" r="5.4" fill="#3de5ff"/>
<circle cx="635.3" cy="863.1" r="5.4" fill="#3de5ff"/>
<circle cx="704.3" cy="863" r="5.4" fill="#3de5ff"/>
<circle cx="629.8" cy="862.9" r="5.4" fill="#3de5ff"/>
<circle cx="651.5" cy="862.7" r="5.4" fill="#3de5ff"/>
<circle cx="661.8" cy="862.5" r="5.4" fill="#3de5ff"/>
<circle cx="677.2" cy="862.3" r="5.4" fill="#3de4ff"/>
<circle cx="641" cy="862.1" r="5.4" fill="#3de4ff"/>
<circle cx="645.6" cy="862" r="5.4" fill="#3de4ff"/>
<circle cx="666.9" cy="862" r="5.4" fill="#3de4ff"/>
<circle cx="656.1" cy="861.7" r="5.4" fill="#3ee4ff"/>
<circle cx="672.3" cy="861.6" r="5.4" fill="#3ee4ff"/>
<circle cx="640.6" cy="860.9" r="5.4" fill="#3ee4ff"/>
<circle cx="646.3" cy="860.8" r="5.4" fill="#3ee4ff"/>
<circle cx="671.9" cy="860.6" r="5.4" fill="#3ee4ff"/>
<circle cx="667.1" cy="860.6" r="5.4" fill="#3ee3ff"/>
<circle cx="661.4" cy="860.5" r="5.4" fill="#3ee3ff"/>
<circle cx="676.8" cy="860.3" r="5.4" fill="#3ee3ff"/>
<circle cx="630.9" cy="860.2" r="5.4" fill="#3ee3ff"/>
<circle cx="651.6" cy="859.8" r="5.5" fill="#3fe3ff"/>
<circle cx="655.8" cy="859.6" r="5.5" fill="#3fe3ff"/>
<circle cx="618" cy="859.5" r="5.5" fill="#3fe3ff"/>
<circle cx="618" cy="859.4" r="5.5" fill="#3fe3ff"/>
<circle cx="635.7" cy="859.4" r="5.5" fill="#3fe3ff"/>
<circle cx="666.6" cy="858.6" r="5.5" fill="#3fe2ff"/>
<circle cx="675.7" cy="858.3" r="5.5" fill="#3fe2ff"/>
<circle cx="645.5" cy="858.2" r="5.5" fill="#3fe2ff"/>
<circle cx="660.8" cy="857.9" r="5.5" fill="#3fe2ff"/>
<circle cx="630" cy="857.7" r="5.5" fill="#40e2ff"/>
<circle cx="634.7" cy="857.6" r="5.5" fill="#40e2ff"/>
<circle cx="655.5" cy="857.6" r="5.5" fill="#40e2ff"/>
<circle cx="651.1" cy="857.5" r="5.5" fill="#40e2ff"/>
<circle cx="640.9" cy="857.4" r="5.5" fill="#40e2ff"/>
<circle cx="671.6" cy="857.2" r="5.5" fill="#40e2ff"/>
<circle cx="640.1" cy="856.6" r="5.5" fill="#40e1ff"/>
<circle cx="629" cy="856.4" r="5.5" fill="#40e1ff"/>
<circle cx="665.5" cy="856.4" r="5.5" fill="#40e1ff"/>
<circle cx="608.3" cy="855.9" r="5.5" fill="#40e1ff"/>
<circle cx="675.6" cy="855.8" r="5.5" fill="#40e1ff"/>
<circle cx="670.8" cy="855.7" r="5.5" fill="#41e1ff"/>
<circle cx="700" cy="855.4" r="5.5" fill="#41e1ff"/>
<circle cx="659.9" cy="855.4" r="5.5" fill="#41e1ff"/>
<circle cx="634.5" cy="855.4" r="5.5" fill="#41e1ff"/>
<circle cx="644.7" cy="855.2" r="5.5" fill="#41e1ff"/>
<circle cx="654.9" cy="855.1" r="5.6" fill="#41e0ff"/>
<circle cx="649.6" cy="855.1" r="5.6" fill="#41e0ff"/>
<circle cx="604.6" cy="855" r="5.6" fill="#41e0ff"/>
<circle cx="699.5" cy="855" r="5.6" fill="#41e0ff"/>
<circle cx="604" cy="854.7" r="5.6" fill="#41e0ff"/>
<circle cx="654.2" cy="854" r="5.6" fill="#41e0ff"/>
<circle cx="682.8" cy="853.8" r="5.6" fill="#41e0ff"/>
<circle cx="634" cy="853.8" r="5.6" fill="#41e0ff"/>
<circle cx="628.8" cy="853.5" r="5.6" fill="#42e0ff"/>
<circle cx="670" cy="853.4" r="5.6" fill="#42e0ff"/>
<circle cx="649.2" cy="853.3" r="5.6" fill="#42e0ff"/>
<circle cx="664.9" cy="853.3" r="5.6" fill="#42dfff"/>
<circle cx="660.1" cy="853.2" r="5.6" fill="#42dfff"/>
<circle cx="674.7" cy="853.1" r="5.6" fill="#42dfff"/>
<circle cx="644.6" cy="853" r="5.6" fill="#42dfff"/>
<circle cx="638.6" cy="852.9" r="5.6" fill="#42dfff"/>
<circle cx="677.2" cy="852.7" r="5.6" fill="#42dfff"/>
<circle cx="653.6" cy="852.1" r="5.6" fill="#42dfff"/>
<circle cx="637.9" cy="852.1" r="5.6" fill="#42dfff"/>
<circle cx="664.3" cy="852.1" r="5.6" fill="#42dfff"/>
<circle cx="632.5" cy="851.9" r="5.6" fill="#42dfff"/>
<circle cx="659.4" cy="851.9" r="5.6" fill="#42dfff"/>
<circle cx="669.8" cy="851.5" r="5.6" fill="#42deff"/>
<circle cx="643" cy="851" r="5.6" fill="#43deff"/>
<circle cx="648.5" cy="850.9" r="5.6" fill="#43deff"/>
<circle cx="674.7" cy="850.7" r="5.6" fill="#43deff"/>
<circle cx="627.5" cy="850.7" r="5.6" fill="#43deff"/>
<circle cx="632.7" cy="849.7" r="5.7" fill="#43deff"/>
<circle cx="638" cy="849.6" r="5.7" fill="#43ddff"/>
<circle cx="650.5" cy="849.5" r="5.7" fill="#43ddff"/>
<circle cx="667.7" cy="849.3" r="5.7" fill="#43ddff"/>
<circle cx="672.6" cy="849.1" r="5.7" fill="#44ddff"/>
<circle cx="661.2" cy="849" r="5.7" fill="#44ddff"/>
<circle cx="626.8" cy="849" r="5.7" fill="#44ddff"/>
<circle cx="687" cy="848.9" r="5.7" fill="#44ddff"/>
<circle cx="656.2" cy="848.9" r="5.7" fill="#44ddff"/>
<circle cx="644.7" cy="848.6" r="5.7" fill="#44ddff"/>
<circle cx="505.2" cy="848.2" r="5.7" fill="#44ddff"/>
<circle cx="686.7" cy="847.7" r="5.7" fill="#44dcff"/>
<circle cx="653.9" cy="847.6" r="5.7" fill="#44dcff"/>
<circle cx="649.2" cy="847.3" r="5.7" fill="#44dcff"/>
<circle cx="622.5" cy="847.1" r="5.7" fill="#44dcff"/>
<circle cx="671.6" cy="847.1" r="5.7" fill="#44dcff"/>
<circle cx="626.4" cy="847.1" r="5.7" fill="#44dcff"/>
<circle cx="631.8" cy="847" r="5.7" fill="#44dcff"/>
<circle cx="643.6" cy="847" r="5.7" fill="#44dcff"/>
<circle cx="664.7" cy="847" r="5.7" fill="#44dcff"/>
<circle cx="670.7" cy="846.7" r="5.7" fill="#45dcff"/>
<circle cx="638.3" cy="846.4" r="5.7" fill="#45dcff"/>
<circle cx="659.7" cy="846.2" r="5.7" fill="#45dcff"/>
<circle cx="658.5" cy="845.5" r="5.7" fill="#45dbff"/>
<circle cx="668.5" cy="845.5" r="5.7" fill="#45dbff"/>
<circle cx="648.1" cy="845.5" r="5.7" fill="#45dbff"/>
<circle cx="631.6" cy="844.7" r="5.8" fill="#45dbff"/>
<circle cx="652.3" cy="844.7" r="5.8" fill="#45dbff"/>
<circle cx="626.4" cy="844.5" r="5.8" fill="#45dbff"/>
<circle cx="663.4" cy="844.4" r="5.8" fill="#45dbff"/>
<circle cx="642.7" cy="844.3" r="5.8" fill="#45dbff"/>
<circle cx="546" cy="844.3" r="5.8" fill="#45dbff"/>
<circle cx="636.8" cy="844.2" r="5.8" fill="#46daff"/>
<circle cx="667.1" cy="842.9" r="5.8" fill="#46daff"/>
<circle cx="625.7" cy="842.9" r="5.8" fill="#46daff"/>
<circle cx="631.9" cy="842.8" r="5.8" fill="#46daff"/>
<circle cx="625" cy="842.6" r="5.8" fill="#46daff"/>
<circle cx="649.5" cy="842.3" r="5.8" fill="#46d9ff"/>
<circle cx="660.4" cy="842.2" r="5.8" fill="#46d9ff"/>
<circle cx="642.9" cy="842.2" r="5.8" fill="#46d9ff"/>
<circle cx="637.7" cy="841.9" r="5.8" fill="#46d9ff"/>
<circle cx="655.2" cy="841.8" r="5.8" fill="#46d9ff"/>
<circle cx="582.7" cy="841.4" r="5.8" fill="#47d9ff"/>
<circle cx="659.5" cy="841.2" r="5.8" fill="#47d9ff"/>
<circle cx="582.9" cy="841" r="5.8" fill="#47d9ff"/>
<circle cx="625.9" cy="840.8" r="5.8" fill="#47d9ff"/>
<circle cx="631.1" cy="840.5" r="5.8" fill="#47d8ff"/>
<circle cx="627" cy="840.4" r="5.8" fill="#47d8ff"/>
<circle cx="664.9" cy="840.2" r="5.9" fill="#47d8ff"/>
<circle cx="600.6" cy="840.2" r="5.9" fill="#47d8ff"/>
<circle cx="608.1" cy="840.2" r="5.9" fill="#47d8ff"/>
<circle cx="647.5" cy="840" r="5.9" fill="#47d8ff"/>
<circle cx="642.7" cy="840" r="5.9" fill="#47d8ff"/>
<circle cx="653.9" cy="839.9" r="5.9" fill="#47d8ff"/>
<circle cx="564.8" cy="839.7" r="5.9" fill="#47d8ff"/>
<circle cx="637" cy="839.7" r="5.9" fill="#47d8ff"/>
<circle cx="565.6" cy="839.3" r="5.9" fill="#47d8ff"/>
<circle cx="600.7" cy="839.3" r="5.9" fill="#47d8ff"/>
<circle cx="625.4" cy="838.8" r="5.9" fill="#48d8ff"/>
<circle cx="608" cy="838.8" r="5.9" fill="#48d7ff"/>
<circle cx="646.3" cy="838.7" r="5.9" fill="#48d7ff"/>
<circle cx="630.9" cy="838.5" r="5.9" fill="#48d7ff"/>
<circle cx="657.7" cy="838.5" r="5.9" fill="#48d7ff"/>
<circle cx="652.2" cy="838.4" r="5.9" fill="#48d7ff"/>
<circle cx="641" cy="838" r="5.9" fill="#48d7ff"/>
<circle cx="635.7" cy="837.4" r="5.9" fill="#48d7ff"/>
<circle cx="662.9" cy="837.4" r="5.9" fill="#48d7ff"/>
<circle cx="630.5" cy="836.5" r="5.9" fill="#48d6ff"/>
<circle cx="655" cy="836.5" r="5.9" fill="#48d6ff"/>
<circle cx="661.3" cy="836.5" r="5.9" fill="#48d6ff"/>
<circle cx="643.3" cy="836.5" r="5.9" fill="#48d6ff"/>
<circle cx="625.3" cy="836.2" r="5.9" fill="#48d6ff"/>
<circle cx="637.5" cy="836.2" r="5.9" fill="#48d6ff"/>
<circle cx="648.5" cy="836" r="5.9" fill="#48d6ff"/>
<circle cx="663.8" cy="834.9" r="6" fill="#49d5ff"/>
<circle cx="648.6" cy="834.4" r="6" fill="#49d5ff"/>
<circle cx="642.8" cy="834.1" r="6" fill="#49d5ff"/>
<circle cx="636.7" cy="833.8" r="6" fill="#49d5ff"/>
<circle cx="654" cy="833.5" r="6" fill="#49d5ff"/>
<circle cx="630.5" cy="833.4" r="6" fill="#49d4ff"/>
<circle cx="660.6" cy="833.2" r="6" fill="#49d4ff"/>
<circle cx="624.3" cy="833" r="6" fill="#49d4ff"/>
<circle cx="624.5" cy="832.3" r="6" fill="#4ad4ff"/>
<circle cx="647.9" cy="831.6" r="6" fill="#4ad4ff"/>
<circle cx="642.4" cy="831.6" r="6" fill="#4ad4ff"/>
<circle cx="618" cy="831.5" r="6" fill="#4ad3ff"/>
<circle cx="659.5" cy="831.4" r="6" fill="#4ad3ff"/>
<circle cx="635.9" cy="831.4" r="6" fill="#4ad3ff"/>
<circle cx="630.4" cy="831.4" r="6" fill="#4ad3ff"/>
<circle cx="653.5" cy="831.2" r="6" fill="#4ad3ff"/>
<circle cx="653.8" cy="830.1" r="6" fill="#4ad3ff"/>
<circle cx="624.2" cy="829.9" r="6" fill="#4ad3ff"/>
<circle cx="547.7" cy="829.8" r="6" fill="#4bd3ff"/>
<circle cx="631" cy="829.7" r="6.1" fill="#4bd2ff"/>
<circle cx="660.5" cy="829.5" r="6.1" fill="#4bd2ff"/>
<circle cx="642.1" cy="829.3" r="6.1" fill="#4bd2ff"/>
<circle cx="647.8" cy="829.3" r="6.1" fill="#4bd2ff"/>
<circle cx="636.2" cy="829" r="6.1" fill="#4bd2ff"/>
<circle cx="626.2" cy="828.1" r="6.1" fill="#4bd2ff"/>
<circle cx="624.8" cy="828" r="6.1" fill="#4bd2ff"/>
<circle cx="630.3" cy="827.7" r="6.1" fill="#4bd1ff"/>
<circle cx="653.5" cy="827.6" r="6.1" fill="#4bd1ff"/>
<circle cx="636.6" cy="827.4" r="6.1" fill="#4bd1ff"/>
<circle cx="642.1" cy="827" r="6.1" fill="#4bd1ff"/>
<circle cx="659.6" cy="826.7" r="6.1" fill="#4bd1ff"/>
<circle cx="647.6" cy="826.6" r="6.1" fill="#4bd1ff"/>
<circle cx="654" cy="825.5" r="6.1" fill="#4cd0ff"/>
<circle cx="630.6" cy="825.1" r="6.1" fill="#4cd0ff"/>
<circle cx="659.7" cy="825" r="6.1" fill="#4cd0ff"/>
<circle cx="581" cy="825" r="6.1" fill="#4cd0ff"/>
<circle cx="635.9" cy="825" r="6.1" fill="#4cd0ff"/>
<circle cx="648.4" cy="824.9" r="6.1" fill="#4cd0ff"/>
<circle cx="581.2" cy="824.8" r="6.1" fill="#4cd0ff"/>
<circle cx="622.5" cy="824.8" r="6.1" fill="#4cd0ff"/>
<circle cx="642.7" cy="824.4" r="6.1" fill="#4cd0ff"/>
<circle cx="624.2" cy="824.2" r="6.1" fill="#4ccfff"/>
<circle cx="662.7" cy="822.6" r="6.2" fill="#4dcfff"/>
<circle cx="641.9" cy="822.5" r="6.2" fill="#4dcfff"/>
<circle cx="648.3" cy="822.5" r="6.2" fill="#4dcfff"/>
<circle cx="624.4" cy="822.4" r="6.2" fill="#4dceff"/>
<circle cx="635.6" cy="822.3" r="6.2" fill="#4dceff"/>
<circle cx="653.9" cy="822.3" r="6.2" fill="#4dceff"/>
<circle cx="629.8" cy="822.3" r="6.2" fill="#4dceff"/>
<circle cx="659.6" cy="822" r="6.2" fill="#4dceff"/>
<circle cx="623.7" cy="821.3" r="6.2" fill="#4dceff"/>
<circle cx="653.9" cy="821.3" r="6.2" fill="#4dceff"/>
<circle cx="641.5" cy="821.2" r="6.2" fill="#4dceff"/>
<circle cx="635.6" cy="821.2" r="6.2" fill="#4dceff"/>
<circle cx="630.3" cy="821.1" r="6.2" fill="#4dceff"/>
<circle cx="618.9" cy="820.9" r="6.2" fill="#4dceff"/>
<circle cx="482.7" cy="820.4" r="6.2" fill="#4dcdff"/>
<circle cx="647.9" cy="820.3" r="6.2" fill="#4dcdff"/>
<circle cx="659.5" cy="820" r="6.2" fill="#4dcdff"/>
<circle cx="576.4" cy="819.7" r="6.2" fill="#4dcdff"/>
<circle cx="638.7" cy="819.1" r="6.2" fill="#4ecdff"/>
<circle cx="626" cy="819.1" r="6.2" fill="#4ecdff"/>
<circle cx="645.8" cy="818.7" r="6.2" fill="#4eccff"/>
<circle cx="659" cy="818.3" r="6.3" fill="#4eccff"/>
<circle cx="576.7" cy="818.1" r="6.3" fill="#4eccff"/>
<circle cx="618" cy="818.1" r="6.3" fill="#4eccff"/>
<circle cx="633" cy="818" r="6.3" fill="#4eccff"/>
<circle cx="651.7" cy="817.7" r="6.3" fill="#4eccff"/>
<circle cx="633.8" cy="817" r="6.3" fill="#4ecbff"/>
<circle cx="640.4" cy="817" r="6.3" fill="#4ecbff"/>
<circle cx="651" cy="816.6" r="6.3" fill="#4ecbff"/>
<circle cx="628.7" cy="816.2" r="6.3" fill="#4ecbff"/>
<circle cx="645.4" cy="815.8" r="6.3" fill="#4ecbff"/>
<circle cx="657.1" cy="815.6" r="6.3" fill="#4ecbff"/>
<circle cx="649.8" cy="813.9" r="6.3" fill="#4fcaff"/>
<circle cx="631.1" cy="813.7" r="6.3" fill="#4fcaff"/>
<circle cx="655.3" cy="813.7" r="6.3" fill="#4fcaff"/>
<circle cx="636.9" cy="813.7" r="6.3" fill="#4fcaff"/>
<circle cx="643.8" cy="813.2" r="6.3" fill="#4fc9ff"/>
<circle cx="633.1" cy="812.5" r="6.4" fill="#4fc9ff"/>
<circle cx="648.1" cy="812.3" r="6.4" fill="#4fc9ff"/>
<circle cx="640.3" cy="811.8" r="6.4" fill="#4fc9ff"/>
<circle cx="654.2" cy="811.7" r="6.4" fill="#4fc9ff"/>
<circle cx="655" cy="810.3" r="6.4" fill="#50c8ff"/>
<circle cx="634.1" cy="810.2" r="6.4" fill="#50c8ff"/>
<circle cx="640.3" cy="809.9" r="6.4" fill="#50c8ff"/>
<circle cx="647.8" cy="809" r="6.4" fill="#50c7ff"/>
<circle cx="653.9" cy="807.7" r="6.4" fill="#50c6ff"/>
<circle cx="640.4" cy="807.3" r="6.4" fill="#50c6ff"/>
<circle cx="647.1" cy="807" r="6.4" fill="#50c6ff"/>
<circle cx="609.7" cy="807" r="6.4" fill="#50c6ff"/>
<circle cx="609.3" cy="806.9" r="6.4" fill="#50c6ff"/>
<circle cx="634.5" cy="806.8" r="6.4" fill="#50c6ff"/>
<circle cx="622.6" cy="806.4" r="6.5" fill="#51c6ff"/>
<circle cx="654.4" cy="805.9" r="6.5" fill="#51c5ff"/>
<circle cx="634.4" cy="805.9" r="6.5" fill="#51c5ff"/>
<circle cx="641.3" cy="805.8" r="6.5" fill="#51c5ff"/>
<circle cx="648.2" cy="804.8" r="6.5" fill="#51c5ff"/>
<circle cx="647.8" cy="803.3" r="6.5" fill="#51c4ff"/>
<circle cx="654.2" cy="803.1" r="6.5" fill="#51c4ff"/>
<circle cx="641.4" cy="803" r="6.5" fill="#51c4ff"/>
<circle cx="635.2" cy="802.9" r="6.5" fill="#51c4ff"/>
<circle cx="623.6" cy="802.5" r="6.5" fill="#51c4ff"/>
<circle cx="654.3" cy="801.2" r="6.5" fill="#52c3ff"/>
<circle cx="634.6" cy="800.9" r="6.5" fill="#52c3ff"/>
<circle cx="648.2" cy="800.8" r="6.5" fill="#52c3ff"/>
<circle cx="641.1" cy="800.4" r="6.6" fill="#52c2ff"/>
<circle cx="654.2" cy="799.1" r="6.6" fill="#52c2ff"/>
<circle cx="641.9" cy="798.7" r="6.6" fill="#52c1ff"/>
<circle cx="647.7" cy="798.6" r="6.6" fill="#52c1ff"/>
<circle cx="635" cy="798.6" r="6.6" fill="#52c1ff"/>
<circle cx="653.4" cy="796.9" r="6.6" fill="#52c0ff"/>
<circle cx="635.7" cy="796.5" r="6.6" fill="#52c0ff"/>
<circle cx="647.9" cy="795.9" r="6.6" fill="#52c0ff"/>
<circle cx="641.9" cy="795.6" r="6.6" fill="#53c0ff"/>
<circle cx="653.8" cy="794.9" r="6.6" fill="#53bfff"/>
<circle cx="645.1" cy="794.8" r="6.6" fill="#53bfff"/>
<circle cx="635.9" cy="794.1" r="6.7" fill="#53bfff"/>
<circle cx="410.5" cy="793.6" r="6.7" fill="#53bfff"/>
<circle cx="653.4" cy="792.7" r="6.7" fill="#53beff"/>
<circle cx="636.1" cy="792.1" r="6.7" fill="#53beff"/>
<circle cx="644.8" cy="791.9" r="6.7" fill="#53beff"/>
<circle cx="636.6" cy="790.4" r="6.7" fill="#53bdff"/>
<circle cx="653.5" cy="789.5" r="6.7" fill="#54bcff"/>
<circle cx="645.6" cy="789.3" r="6.7" fill="#54bcff"/>
<circle cx="612.5" cy="789.1" r="6.7" fill="#54bcff"/>
<circle cx="653.8" cy="788.3" r="6.7" fill="#54bcff"/>
<circle cx="645.9" cy="787.8" r="6.7" fill="#54bbff"/>
<circle cx="613.1" cy="787.1" r="6.8" fill="#54bbff"/>
<circle cx="636.4" cy="786.8" r="6.8" fill="#54bbff"/>
<circle cx="636.6" cy="785.9" r="6.8" fill="#54baff"/>
<circle cx="645.9" cy="785.7" r="6.8" fill="#54baff"/>
<circle cx="653.5" cy="785.5" r="6.8" fill="#54baff"/>
<circle cx="654.2" cy="783.7" r="6.8" fill="#54b9ff"/>
<circle cx="637.4" cy="782.7" r="6.8" fill="#54b9ff"/>
<circle cx="645" cy="782.6" r="6.8" fill="#54b9ff"/>
<circle cx="653.5" cy="781.7" r="6.8" fill="#55b8ff"/>
<circle cx="637.1" cy="781.5" r="6.8" fill="#55b8ff"/>
<circle cx="646" cy="780.8" r="6.9" fill="#55b8ff"/>
<circle cx="653.2" cy="779.3" r="6.9" fill="#55b7ff"/>
<circle cx="637.9" cy="779.3" r="6.9" fill="#55b7ff"/>
<circle cx="443.3" cy="779.1" r="6.9" fill="#55b7ff"/>
<circle cx="645.8" cy="778.8" r="6.9" fill="#55b7ff"/>
<circle cx="610.7" cy="777.4" r="6.9" fill="#55b6ff"/>
<circle cx="645.7" cy="777.1" r="6.9" fill="#55b6ff"/>
<circle cx="653.1" cy="776.9" r="6.9" fill="#55b5ff"/>
<circle cx="610.2" cy="776.8" r="6.9" fill="#55b5ff"/>
<circle cx="637.9" cy="776.6" r="6.9" fill="#55b5ff"/>
<circle cx="653.7" cy="775" r="6.9" fill="#55b4ff"/>
<circle cx="637.3" cy="774" r="7" fill="#56b4ff"/>
<circle cx="645.2" cy="773.9" r="7" fill="#56b4ff"/>
<circle cx="646.2" cy="773" r="7" fill="#56b3ff"/>
<circle cx="638.3" cy="772.1" r="7" fill="#56b3ff"/>
<circle cx="654.1" cy="772" r="7" fill="#56b3ff"/>
<circle cx="547.4" cy="771.4" r="7" fill="#56b2ff"/>
<circle cx="653.2" cy="770.3" r="7" fill="#56b2ff"/>
<circle cx="645.1" cy="769.6" r="7" fill="#56b2ff"/>
<circle cx="637.7" cy="769.2" r="7" fill="#56b1ff"/>
<circle cx="638.5" cy="768.3" r="7" fill="#56b1ff"/>
<circle cx="646.1" cy="768.2" r="7" fill="#56b1ff"/>
<circle cx="653.1" cy="767.8" r="7" fill="#56b1ff"/>
<circle cx="609.3" cy="767.7" r="7.1" fill="#56b0ff"/>
<circle cx="609.1" cy="766.8" r="7.1" fill="#56b0ff"/>
<circle cx="653.8" cy="766.4" r="7.1" fill="#56b0ff"/>
<circle cx="638.2" cy="766" r="7.1" fill="#56b0ff"/>
<circle cx="645.6" cy="765.2" r="7.1" fill="#56afff"/>
<circle cx="653" cy="763.8" r="7.1" fill="#56aeff"/>
<circle cx="638.7" cy="763.7" r="7.1" fill="#56aeff"/>
<circle cx="559.8" cy="763.6" r="7.1" fill="#56aeff"/>
<circle cx="645.6" cy="763.2" r="7.1" fill="#56aeff"/>
<circle cx="653.4" cy="762" r="7.1" fill="#57adff"/>
<circle cx="638.5" cy="760.6" r="7.2" fill="#57adff"/>
<circle cx="645.9" cy="760.4" r="7.2" fill="#57acff"/>
<circle cx="652.8" cy="759.7" r="7.2" fill="#57acff"/>
<circle cx="560" cy="758.7" r="7.2" fill="#57abff"/>
<circle cx="638.4" cy="758.6" r="7.2" fill="#57abff"/>
<circle cx="646.3" cy="758.5" r="7.2" fill="#57abff"/>
<circle cx="639.1" cy="757.6" r="7.2" fill="#57abff"/>
<circle cx="645.9" cy="756.8" r="7.2" fill="#57aaff"/>
<circle cx="652.8" cy="756.2" r="7.2" fill="#57aaff"/>
<circle cx="590.9" cy="754.8" r="7.2" fill="#57a9ff"/>
<circle cx="645.7" cy="754.4" r="7.2" fill="#57a9ff"/>
<circle cx="610.8" cy="754.2" r="7.2" fill="#57a9ff"/>
<circle cx="638.9" cy="754" r="7.2" fill="#57a9ff"/>
<circle cx="653.1" cy="754" r="7.2" fill="#57a9ff"/>
<circle cx="590.9" cy="754" r="7.2" fill="#57a9ff"/>
<circle cx="610.5" cy="753.2" r="7.3" fill="#57a9ff"/>
<circle cx="652.7" cy="753" r="7.3" fill="#57a8ff"/>
<circle cx="610.8" cy="752.3" r="7.3" fill="#57a8ff"/>
<circle cx="645.6" cy="752.2" r="7.3" fill="#57a8ff"/>
<circle cx="638.3" cy="751.8" r="7.3" fill="#57a8ff"/>
<circle cx="628.6" cy="750.8" r="7.3" fill="#57a7ff"/>
<circle cx="627" cy="749.7" r="7.3" fill="#57a7ff"/>
<circle cx="645.8" cy="749.7" r="7.3" fill="#57a7ff"/>
<circle cx="638.5" cy="749.5" r="7.3" fill="#57a6ff"/>
<circle cx="653" cy="749.5" r="7.3" fill="#57a6ff"/>
<circle cx="639.6" cy="748.5" r="7.3" fill="#57a6ff"/>
<circle cx="652.7" cy="748.2" r="7.3" fill="#57a6ff"/>
<circle cx="455.7" cy="748.2" r="7.3" fill="#57a6ff"/>
<circle cx="646.1" cy="747.8" r="7.3" fill="#57a6ff"/>
<circle cx="621.9" cy="746.4" r="7.4" fill="#57a5ff"/>
<circle cx="653.6" cy="746.2" r="7.4" fill="#57a5ff"/>
<circle cx="440.2" cy="746" r="7.4" fill="#57a5ff"/>
<circle cx="621.4" cy="746" r="7.4" fill="#57a5ff"/>
<circle cx="639.3" cy="746" r="7.4" fill="#57a5ff"/>
<circle cx="646.4" cy="745.1" r="7.4" fill="#57a4ff"/>
<circle cx="653.7" cy="743.9" r="7.4" fill="#57a3ff"/>
<circle cx="646.2" cy="743.7" r="7.4" fill="#57a3ff"/>
<circle cx="639" cy="743.5" r="7.4" fill="#57a3ff"/>
<circle cx="639.6" cy="741.4" r="7.4" fill="#58a2ff"/>
<circle cx="653.2" cy="741" r="7.4" fill="#58a2ff"/>
<circle cx="652.7" cy="738.8" r="7.5" fill="#58a1ff"/>
<circle cx="640.8" cy="738.6" r="7.5" fill="#58a1ff"/>
<circle cx="652.9" cy="737.6" r="7.5" fill="#58a0ff"/>
<circle cx="640.3" cy="736.9" r="7.5" fill="#58a0ff"/>
<circle cx="641" cy="735.4" r="7.5" fill="#589fff"/>
<circle cx="653.4" cy="735.4" r="7.5" fill="#589fff"/>
<circle cx="641.1" cy="733.2" r="7.5" fill="#589eff"/>
<circle cx="652.5" cy="732.5" r="7.5" fill="#589dff"/>
<circle cx="641.1" cy="730.8" r="7.6" fill="#589cff"/>
<circle cx="652.5" cy="730" r="7.6" fill="#589cff"/>
<circle cx="621.6" cy="728.4" r="7.6" fill="#589bff"/>
<circle cx="621.7" cy="728.2" r="7.6" fill="#589bff"/>
<circle cx="641.3" cy="728.1" r="7.6" fill="#589bff"/>
<circle cx="652.5" cy="727.6" r="7.6" fill="#589aff"/>
<circle cx="652.7" cy="726.3" r="7.6" fill="#589aff"/>
<circle cx="642.6" cy="725.7" r="7.6" fill="#5899ff"/>
<circle cx="653" cy="724.6" r="7.6" fill="#5899ff"/>
<circle cx="642.1" cy="724.1" r="7.7" fill="#5899ff"/>
<circle cx="643.3" cy="722.3" r="7.7" fill="#5898ff"/>
<circle cx="652.8" cy="721.9" r="7.7" fill="#5897ff"/>
<circle cx="643.5" cy="719.6" r="7.7" fill="#5796ff"/>
<circle cx="652.9" cy="719.3" r="7.7" fill="#5796ff"/>
<circle cx="643.9" cy="717.3" r="7.7" fill="#5795ff"/>
<circle cx="653.2" cy="716.9" r="7.7" fill="#5795ff"/>
<circle cx="652.2" cy="715.3" r="7.8" fill="#5794ff"/>
<circle cx="643.7" cy="715" r="7.8" fill="#5793ff"/>
<circle cx="638.1" cy="714" r="7.8" fill="#5793ff"/>
<circle cx="652.6" cy="713.2" r="7.8" fill="#5792ff"/>
<circle cx="645.4" cy="712.2" r="7.8" fill="#5792ff"/>
<circle cx="645.5" cy="711.2" r="7.8" fill="#5791ff"/>
<circle cx="653" cy="710.3" r="7.8" fill="#5791ff"/>
<circle cx="649.1" cy="708.5" r="7.9" fill="#5790ff"/>
<circle cx="650.1" cy="706.5" r="7.9" fill="#578fff"/>
<circle cx="632" cy="705.6" r="7.9" fill="#578eff"/>
<circle cx="650.1" cy="703.7" r="7.9" fill="#578dff"/>
<circle cx="650.2" cy="701.9" r="7.9" fill="#578cff"/>
<circle cx="651" cy="699.5" r="8" fill="#578bff"/>
<circle cx="650.4" cy="696.9" r="8" fill="#5689ff"/>
<circle cx="651.2" cy="694.5" r="8" fill="#5688ff"/>
<circle cx="651.4" cy="692.8" r="8" fill="#5687ff"/>
<circle cx="651" cy="690.9" r="8.1" fill="#5686ff"/>
<circle cx="651.4" cy="689.1" r="8.1" fill="#5685ff"/>
<circle cx="613.6" cy="687.8" r="8.1" fill="#5684ff"/>
<circle cx="651.3" cy="685.8" r="8.1" fill="#5583ff"/>
<circle cx="652.3" cy="683.9" r="8.2" fill="#5582ff"/>
<circle cx="652.5" cy="681.3" r="8.2" fill="#5581ff"/>
<circle cx="615.2" cy="681.1" r="8.2" fill="#5581ff"/>
<circle cx="652" cy="679.6" r="8.2" fill="#5580ff"/>
<circle cx="652" cy="678.3" r="8.2" fill="#557fff"/>
<circle cx="638.1" cy="676.6" r="8.2" fill="#547eff"/>
<circle cx="651.4" cy="675" r="8.3" fill="#547dff"/>
<circle cx="651.7" cy="673.7" r="8.3" fill="#547dff"/>
<circle cx="651.2" cy="670.3" r="8.3" fill="#547bff"/>
<circle cx="644.8" cy="669.9" r="8.3" fill="#537aff"/>
<circle cx="651.1" cy="668.7" r="8.3" fill="#537aff"/>
<circle cx="651.5" cy="667.1" r="8.4" fill="#5379ff"/>
<circle cx="651.1" cy="666.6" r="8.4" fill="#5379ff"/>
<circle cx="651.6" cy="664.2" r="8.4" fill="#5377ff"/>
<circle cx="651.7" cy="661.5" r="8.4" fill="#5276ff"/>
<circle cx="651.3" cy="659.4" r="8.4" fill="#5274ff"/>
<circle cx="633.1" cy="649.8" r="8.6" fill="#506fff"/>
<circle cx="649.3" cy="649.8" r="8.6" fill="#506fff"/>
<circle cx="648.5" cy="620.8" r="8.9" fill="#4a5eff"/>
<circle cx="627" cy="620.3" r="8.9" fill="#4a5eff"/>
<circle cx="649" cy="609.4" r="9" fill="#4757ff"/>
<circle cx="613.2" cy="593.7" r="9.2" fill="#424dff"/>
<circle cx="624.3" cy="121" r="13.2" fill="#ff0000"/>
<path d="M159.7 899.4H1013" stroke="#000" stroke-width="3.4" stroke-dasharray="11.63 11.63" fill="none"/>
<path d="M652.6 80.6V950" stroke="#000" stroke-width="3.4" stroke-dasharray="11.58 11.58" fill="none"/>
</g>
<text x="569.5" y="151.2" font-size="23.8" fill="#f2001a">TGM2</text>
<rect x="162" y="82.8" width="850.2" height="866.1" fill="none" stroke="#333" stroke-width="1.8"/>
<text x="147" y="919.4" font-size="23.6" fill="#4d4d4d" text-anchor="end">0</text>
<text x="147" y="713.1" font-size="23.6" fill="#4d4d4d" text-anchor="end">25</text>
<text x="147" y="506.8" font-size="23.6" fill="#4d4d4d" text-anchor="end">50</text>
<text x="147" y="300.5" font-size="23.6" fill="#4d4d4d" text-anchor="end">75</text>
<text x="147" y="94.2" font-size="23.6" fill="#4d4d4d" text-anchor="end">100</text>
<text x="273.9" y="980.6" font-size="23.6" fill="#4d4d4d" text-anchor="middle">−4000</text>
<text x="463.3" y="980.6" font-size="23.6" fill="#4d4d4d" text-anchor="middle">−2000</text>
<text x="652.7" y="980.6" font-size="23.6" fill="#4d4d4d" text-anchor="middle">0</text>
<text x="842.1" y="980.6" font-size="23.6" fill="#4d4d4d" text-anchor="middle">2000</text>
<path d="M154 910.2H162M154 703.9H162M154 497.6H162M154 291.3H162M154 85H162M273.9 949V957M463.3 949V957M652.7 949V957M842.1 949V957" stroke="#333" stroke-width="1.8" fill="none"/>
<text x="471.8" y="1015.1" font-size="30" fill="#000" textLength="231" lengthAdjust="spacing">log<tspan font-size="20" dy="5">2</tspan><tspan dy="-5"> Fold Change</tspan></text>
<text transform="translate(86.5 609.9) rotate(-90)" font-size="30" fill="#000" textLength="188.2" lengthAdjust="spacing">−log<tspan font-size="21" dy="5">10</tspan><tspan dy="-5"> P value</tspan></text>
<text x="800.6" y="130.3" font-size="30" fill="#000" textLength="189.3" lengthAdjust="spacing">−log<tspan font-size="21" dy="5">10</tspan><tspan dy="-5"> P value</tspan></text>
<rect x="800.2" y="154.4" width="47.7" height="233.6" fill="url(#gradA)"/>
<path d="M800.2 205.6H809.7M838.4 205.6H847.9" stroke="#fff" stroke-opacity="0.8" stroke-width="1.1"/>
<path d="M800.2 266.5H809.7M838.4 266.5H847.9" stroke="#fff" stroke-opacity="0.8" stroke-width="1.1"/>
<path d="M800.2 327.6H809.7M838.4 327.6H847.9" stroke="#fff" stroke-opacity="0.8" stroke-width="1.1"/>
<text x="863.4" y="213.7" font-size="22.6" fill="#000">75</text>
<text x="863.4" y="274.6" font-size="22.6" fill="#000">50</text>
<text x="863.4" y="335.7" font-size="22.6" fill="#000">25</text>
<text x="863.4" y="396.1" font-size="22.6" fill="#000">0</text>
</g>
<g id="panelB" font-family="'Liberation Sans', Arial, Helvetica, sans-serif">
<text x="1058.5" y="34" font-size="40" font-weight="bold" fill="#000">B</text>
<path d="M1501.7 116.4H1831M1839.8 116.4H2168.7M1501.7 138.6H1831M1839.8 138.6H2168.7M1501.7 160.9H1831M1839.8 160.9H2168.7M1501.7 183.1H1831M1839.8 183.1H2168.7M1501.7 205.4H1831M1839.8 205.4H2168.7M1501.7 227.6H1831M1839.8 227.6H2168.7M1501.7 249.9H1831M1839.8 249.9H2168.7M1501.7 272.1H1831M1839.8 272.1H2168.7M1501.7 294.3H1831M1839.8 294.3H2168.7M1501.7 316.6H1831M1839.8 316.6H2168.7M1501.7 338.8H1831M1839.8 338.8H2168.7M1501.7 361.1H1831M1839.8 361.1H2168.7M1501.7 383.3H1831M1839.8 383.3H2168.7M1501.7 405.6H1831M1839.8 405.6H2168.7M1501.7 427.8H1831M1839.8 427.8H2168.7M1501.7 450H1831M1839.8 450H2168.7M1501.7 472.3H1831M1839.8 472.3H2168.7M1501.7 494.5H1831M1839.8 494.5H2168.7M1501.7 516.8H1831M1839.8 516.8H2168.7M1501.7 539H1831M1839.8 539H2168.7M1501.7 561.3H1831M1839.8 561.3H2168.7M1501.7 583.5H1831M1839.8 583.5H2168.7M1501.7 605.7H1831M1839.8 605.7H2168.7M1501.7 628H1831M1839.8 628H2168.7M1501.7 650.2H1831M1839.8 650.2H2168.7M1501.7 672.5H1831M1839.8 672.5H2168.7M1501.7 694.7H1831M1839.8 694.7H2168.7M1501.7 717H1831M1839.8 717H2168.7M1501.7 739.2H1831M1839.8 739.2H2168.7M1501.7 761.4H1831M1839.8 761.4H2168.7M1501.7 783.7H1831M1839.8 783.7H2168.7M1501.7 805.9H1831M1839.8 805.9H2168.7M1501.7 828.2H1831M1839.8 828.2H2168.7M1501.7 850.4H1831M1839.8 850.4H2168.7M1501.7 872.7H1831M1839.8 872.7H2168.7M1501.7 894.9H1831M1839.8 894.9H2168.7M1501.7 917.1H1831M1839.8 917.1H2168.7M1501.7 939.4H1831M1839.8 939.4H2168.7M1515.9 102.6V951.8M1612.4 102.6V951.8M1708.9 102.6V951.8M1805.4 102.6V951.8M1913.6 102.6V951.8M2002.5 102.6V951.8M2091.4 102.6V951.8" stroke="#efefef" stroke-width="0.9" fill="none"/>
<path d="M1564.2 102.6V951.8M1660.7 102.6V951.8M1757.2 102.6V951.8M1869.1 102.6V951.8M1958 102.6V951.8M2046.9 102.6V951.8M2135.8 102.6V951.8" stroke="#f5f5f5" stroke-width="0.6" fill="none"/>
<circle cx="2154" cy="116.4" r="10" fill="#d60000"/>
<circle cx="2012.6" cy="138.6" r="10.8" fill="#f95a5c"/>
<circle cx="1973.1" cy="160.9" r="12.3" fill="#fb4c4c"/>
<circle cx="1945.3" cy="183.1" r="11.5" fill="#fa7a80"/>
<circle cx="1935.7" cy="205.4" r="12" fill="#f95c66"/>
<circle cx="1934.9" cy="227.6" r="12.3" fill="#fb4f4f"/>
<circle cx="1920.6" cy="249.9" r="8.9" fill="#fdc8f0"/>
<circle cx="1898.5" cy="272.1" r="12.3" fill="#f85050"/>
<circle cx="1892.8" cy="294.3" r="10.8" fill="#6a6af8"/>
<circle cx="1893.1" cy="316.6" r="8.5" fill="#9c9cfb"/>
<circle cx="1888.1" cy="338.8" r="7" fill="#4a38e8"/>
<circle cx="1858.7" cy="361.1" r="8.1" fill="#3300aa"/>
<circle cx="1854.1" cy="383.3" r="5" fill="#b8b4f8"/>
<circle cx="1815.8" cy="405.6" r="8.9" fill="#4a00a8"/>
<circle cx="1795" cy="427.8" r="8.5" fill="#0000cc"/>
<circle cx="1773" cy="450" r="7.3" fill="#0000cc"/>
<circle cx="1738.9" cy="472.3" r="8.5" fill="#b8b0f8"/>
<circle cx="1737" cy="494.5" r="9.3" fill="#6858f0"/>
<circle cx="1736.6" cy="516.8" r="9.7" fill="#fdc4ee"/>
<circle cx="1706.1" cy="539" r="8.9" fill="#b8b0f6"/>
<circle cx="1699.1" cy="561.3" r="7.3" fill="#c4bcf6"/>
<circle cx="1673.2" cy="583.5" r="8.9" fill="#fb94a4"/>
<circle cx="1669" cy="605.7" r="7.3" fill="#0800c8"/>
<circle cx="1664" cy="628" r="8.1" fill="#c4b8f6"/>
<circle cx="1633.4" cy="650.2" r="8.1" fill="#8080f8"/>
<circle cx="1621.1" cy="672.5" r="9.3" fill="#a4a0f8"/>
<circle cx="1620.7" cy="694.7" r="7.7" fill="#fccef6"/>
<circle cx="1615.7" cy="717" r="7.7" fill="#fb7878"/>
<circle cx="1593.2" cy="739.2" r="9.7" fill="#fb5058"/>
<circle cx="1590.5" cy="761.4" r="10" fill="#fb4c54"/>
<circle cx="1589.8" cy="783.7" r="8.9" fill="#fb7478"/>
<circle cx="1587.8" cy="805.9" r="7.3" fill="#fdc4ee"/>
<circle cx="1585.9" cy="828.2" r="9.3" fill="#fb4c54"/>
<circle cx="1555" cy="850.4" r="7.7" fill="#fb7a7e"/>
<circle cx="1544.5" cy="872.7" r="7.7" fill="#fb505c"/>
<circle cx="1541" cy="894.9" r="8.5" fill="#fb7a7e"/>
<circle cx="1517.9" cy="917.1" r="7.7" fill="#fb505c"/>
<circle cx="1516.3" cy="939.4" r="7.7" fill="#fb5860"/>
<rect x="1501.7" y="74.7" width="329.3" height="27.9" fill="#ebebeb" stroke="#3d3d3d" stroke-width="1.3"/>
<rect x="1501.7" y="102.6" width="329.3" height="849.2" fill="none" stroke="#3d3d3d" stroke-width="1.3"/>
<text x="1666.3" y="94.6" font-size="17.5" fill="#111" text-anchor="middle">suppressed</text>
<rect x="1839.8" y="74.7" width="328.9" height="27.9" fill="#ebebeb" stroke="#3d3d3d" stroke-width="1.3"/>
<rect x="1839.8" y="102.6" width="328.9" height="849.2" fill="none" stroke="#3d3d3d" stroke-width="1.3"/>
<text x="2004.2" y="94.6" font-size="17.5" fill="#111" text-anchor="middle">activated</text>
<text x="1493.7" y="122.2" font-size="16.2" fill="#111" stroke="#111" stroke-width="0.25" text-anchor="end">Ribosome</text>
<text x="1493.7" y="144.4" font-size="16.2" fill="#111" stroke="#111" stroke-width="0.25" text-anchor="end">Oxidative phosphorylation</text>
<text x="1493.7" y="166.7" font-size="16.2" fill="#111" stroke="#111" stroke-width="0.25" text-anchor="end">Parkinson disease</text>
<text x="1493.7" y="188.9" font-size="16.2" fill="#111" stroke="#111" stroke-width="0.25" text-anchor="end">Chemical carcinogenesis − reactive oxygen species</text>
<text x="1493.7" y="211.2" font-size="16.2" fill="#111" stroke="#111" stroke-width="0.25" text-anchor="end">Huntington disease</text>
<text x="1493.7" y="233.4" font-size="16.2" fill="#111" stroke="#111" stroke-width="0.25" text-anchor="end">Alzheimer disease</text>
<text x="1493.7" y="255.7" font-size="16.2" fill="#111" stroke="#111" stroke-width="0.25" text-anchor="end">Carbon metabolism</text>
<text x="1493.7" y="277.9" font-size="16.2" fill="#111" stroke="#111" stroke-width="0.25" text-anchor="end">Pathways of neurodegeneration − multiple diseases</text>
<text x="1493.7" y="300.1" font-size="16.2" fill="#111" stroke="#111" stroke-width="0.25" text-anchor="end">Spliceosome</text>
<text x="1493.7" y="322.4" font-size="16.2" fill="#111" stroke="#111" stroke-width="0.25" text-anchor="end">Biosynthesis of amino acids</text>
<text x="1493.7" y="344.6" font-size="16.2" fill="#111" stroke="#111" stroke-width="0.25" text-anchor="end">Glycolysis / Gluconeogenesis</text>
<text x="1493.7" y="366.9" font-size="16.2" fill="#111" stroke="#111" stroke-width="0.25" text-anchor="end">Metabolism of xenobiotics by cytochrome P450</text>
<text x="1493.7" y="389.1" font-size="16.2" fill="#111" stroke="#111" stroke-width="0.25" text-anchor="end">Aldosterone−regulated sodium reabsorption</text>
<text x="1493.7" y="411.4" font-size="16.2" fill="#111" stroke="#111" stroke-width="0.25" text-anchor="end">Lysosome</text>
<text x="1493.7" y="433.6" font-size="16.2" fill="#111" stroke="#111" stroke-width="0.25" text-anchor="end">Systemic lupus erythematosus</text>
<text x="1493.7" y="455.8" font-size="16.2" fill="#e8000b" stroke="#e8000b" stroke-width="0.45" text-anchor="end">Natural killer cell mediated cytotoxicity</text>
<text x="1493.7" y="478.1" font-size="16.2" fill="#111" stroke="#111" stroke-width="0.25" text-anchor="end">Rheumatoid arthritis</text>
<text x="1493.7" y="500.3" font-size="16.2" fill="#111" stroke="#111" stroke-width="0.25" text-anchor="end">Toxoplasmosis</text>
<text x="1493.7" y="522.6" font-size="16.2" fill="#111" stroke="#111" stroke-width="0.25" text-anchor="end">Focal adhesion</text>
<text x="1493.7" y="544.8" font-size="16.2" fill="#111" stroke="#111" stroke-width="0.25" text-anchor="end">Tuberculosis</text>
<text x="1493.7" y="567.1" font-size="16.2" fill="#111" stroke="#111" stroke-width="0.25" text-anchor="end">Platelet activation</text>
<text x="1493.7" y="589.3" font-size="16.2" fill="#111" stroke="#111" stroke-width="0.25" text-anchor="end">Epstein−Barr virus infection</text>
<text x="1493.7" y="611.5" font-size="16.2" fill="#111" stroke="#111" stroke-width="0.25" text-anchor="end">Asthma</text>
<text x="1493.7" y="633.8" font-size="16.2" fill="#e8000b" stroke="#e8000b" stroke-width="0.45" text-anchor="end">Th1 and Th2 cell differentiation</text>
<text x="1493.7" y="656" font-size="16.2" fill="#111" stroke="#111" stroke-width="0.25" text-anchor="end">Pertussis</text>
<text x="1493.7" y="678.3" font-size="16.2" fill="#111" stroke="#111" stroke-width="0.25" text-anchor="end">Complement and coagulation cascades</text>
<text x="1493.7" y="700.5" font-size="16.2" fill="#111" stroke="#111" stroke-width="0.25" text-anchor="end">Inflammatory bowel disease</text>
<text x="1493.7" y="714.7" font-size="16.2" fill="#111" stroke="#111" stroke-width="0.25" text-anchor="end">AGE−RAGE signaling pathway in diabetic</text>
<text x="1493.7" y="731" font-size="16.2" fill="#111" stroke="#111" stroke-width="0.25" text-anchor="end">complications</text>
<text x="1493.7" y="745" font-size="16.2" fill="#111" stroke="#111" stroke-width="0.25" text-anchor="end">Herpes simplex virus 1 infection</text>
<text x="1493.7" y="767.2" font-size="16.2" fill="#111" stroke="#111" stroke-width="0.25" text-anchor="end">Phagosome</text>
<text x="1493.7" y="789.5" font-size="16.2" fill="#111" stroke="#111" stroke-width="0.25" text-anchor="end">Leishmaniasis</text>
<text x="1493.7" y="811.7" font-size="16.2" fill="#111" stroke="#111" stroke-width="0.25" text-anchor="end">Intestinal immune network for IgA production</text>
<text x="1493.7" y="834" font-size="16.2" fill="#e8000b" stroke="#e8000b" stroke-width="0.45" text-anchor="end">Antigen processing and presentation</text>
<text x="1493.7" y="856.2" font-size="16.2" fill="#111" stroke="#111" stroke-width="0.25" text-anchor="end">Type I diabetes mellitus</text>
<text x="1493.7" y="878.5" font-size="16.2" fill="#111" stroke="#111" stroke-width="0.25" text-anchor="end">Graft−versus−host disease</text>
<text x="1493.7" y="900.7" font-size="16.2" fill="#111" stroke="#111" stroke-width="0.25" text-anchor="end">Viral myocarditis</text>
<text x="1493.7" y="922.9" font-size="16.2" fill="#111" stroke="#111" stroke-width="0.25" text-anchor="end">Autoimmune thyroid disease</text>
<text x="1493.7" y="945.2" font-size="16.2" fill="#111" stroke="#111" stroke-width="0.25" text-anchor="end">Allograft rejection</text>
<path d="M1497.2 116.4H1501.7M1497.2 138.6H1501.7M1497.2 160.9H1501.7M1497.2 183.1H1501.7M1497.2 205.4H1501.7M1497.2 227.6H1501.7M1497.2 249.9H1501.7M1497.2 272.1H1501.7M1497.2 294.3H1501.7M1497.2 316.6H1501.7M1497.2 338.8H1501.7M1497.2 361.1H1501.7M1497.2 383.3H1501.7M1497.2 405.6H1501.7M1497.2 427.8H1501.7M1497.2 450H1501.7M1497.2 472.3H1501.7M1497.2 494.5H1501.7M1497.2 516.8H1501.7M1497.2 539H1501.7M1497.2 561.3H1501.7M1497.2 583.5H1501.7M1497.2 605.7H1501.7M1497.2 628H1501.7M1497.2 650.2H1501.7M1497.2 672.5H1501.7M1497.2 694.7H1501.7M1497.2 717H1501.7M1497.2 739.2H1501.7M1497.2 761.4H1501.7M1497.2 783.7H1501.7M1497.2 805.9H1501.7M1497.2 828.2H1501.7M1497.2 850.4H1501.7M1497.2 872.7H1501.7M1497.2 894.9H1501.7M1497.2 917.1H1501.7M1497.2 939.4H1501.7M1515.9 951.8V956.3M1612.4 951.8V956.3M1708.9 951.8V956.3M1805.4 951.8V956.3M1913.6 951.8V956.3M2002.5 951.8V956.3M2091.4 951.8V956.3" stroke="#3d3d3d" stroke-width="1.3" fill="none"/>
<text x="1515.9" y="970.8" font-size="16.2" fill="#111" text-anchor="middle">−1.90</text>
<text x="1612.4" y="970.8" font-size="16.2" fill="#111" text-anchor="middle">−1.85</text>
<text x="1708.9" y="970.8" font-size="16.2" fill="#111" text-anchor="middle">−1.80</text>
<text x="1805.4" y="970.8" font-size="16.2" fill="#111" text-anchor="middle">−1.75</text>
<text x="1913.6" y="970.8" font-size="16.2" fill="#111" text-anchor="middle">1.8</text>
<text x="2002.5" y="970.8" font-size="16.2" fill="#111" text-anchor="middle">1.9</text>
<text x="2091.4" y="970.8" font-size="16.2" fill="#111" text-anchor="middle">2.0</text>
<text x="1834.8" y="988.9" font-size="16" fill="#111" text-anchor="middle">NES</text>
<text x="2193.7" y="395.6" font-size="16.1" fill="#000">Count</text>
<circle cx="2208.9" cy="416.4" r="8.5" fill="#999"/>
<text x="2232.2" y="421.1" font-size="13.3" fill="#000">20</text>
<circle cx="2208.9" cy="439.3" r="10" fill="#999"/>
<text x="2232.2" y="444" font-size="13.3" fill="#000">40</text>
<circle cx="2208.9" cy="464.6" r="11.4" fill="#999"/>
<text x="2232.2" y="469.3" font-size="13.3" fill="#000">60</text>
<circle cx="2208.9" cy="492.3" r="12.5" fill="#999"/>
<text x="2232.2" y="497" font-size="13.3" fill="#000">80</text>
<text x="2193.7" y="550.8" font-size="16.1" fill="#000">p.adjust</text>
<rect x="2193.1" y="560.6" width="24.1" height="111.5" fill="url(#gradB)"/>
<path d="M2193.1 576.1H2198M2212.3 576.1H2217.2" stroke="#fff" stroke-opacity="0.7" stroke-width="0.8"/>
<text x="2224.7" y="580.8" font-size="13.3" fill="#000">0.04</text>
<path d="M2193.1 600.4H2198M2212.3 600.4H2217.2" stroke="#fff" stroke-opacity="0.7" stroke-width="0.8"/>
<text x="2224.7" y="605.1" font-size="13.3" fill="#000">0.03</text>
<path d="M2193.1 624.4H2198M2212.3 624.4H2217.2" stroke="#fff" stroke-opacity="0.7" stroke-width="0.8"/>
<text x="2224.7" y="629.1" font-size="13.3" fill="#000">0.02</text>
<path d="M2193.1 648.7H2198M2212.3 648.7H2217.2" stroke="#fff" stroke-opacity="0.7" stroke-width="0.8"/>
<text x="2224.7" y="653.4" font-size="13.3" fill="#000">0.01</text>
</g>
<g id="panelC" font-family="'Liberation Sans', Arial, Helvetica, sans-serif">
<text x="1.5" y="1102" font-size="40" font-weight="bold" fill="#000">C</text>
<text x="156.2" y="1178.8" font-size="31.9" fill="#000">Term Name</text>
<path d="M342 1167.5h31.8" stroke="#6cc3a0" stroke-width="5.4" fill="none"/>
<text x="394.8" y="1148" font-size="25.3" fill="#000">Antigen</text>
<text x="394.8" y="1176.2" font-size="25.3" fill="#000">Processing And</text>
<text x="394.8" y="1204.4" font-size="25.3" fill="#000">Presentation</text>
<path d="M592 1167.5h31.8" stroke="#f53a3b" stroke-width="5.4" fill="none"/>
<text x="644.2" y="1148" font-size="25.3" fill="#000">Th1 And</text>
<text x="644.2" y="1176.2" font-size="25.3" fill="#000">Th2 Cell</text>
<text x="644.2" y="1204.4" font-size="25.3" fill="#000">Differentiation</text>
<path d="M819.9 1167.5h31.8" stroke="#965aa2" stroke-width="5.4" fill="none"/>
<text x="872.1" y="1148" font-size="25.3" fill="#000">Natural Killer</text>
<text x="872.1" y="1176.2" font-size="25.3" fill="#000">Cell Mediated</text>
<text x="872.1" y="1204.4" font-size="25.3" fill="#000">Cytotoxicity</text>
<g clip-path="url(#clipC)" fill="none" stroke-linejoin="round">
<path d="M177.3 1292.1H1004.4" stroke="#000" stroke-width="4.9" stroke-dasharray="19.7 19.7"/>
<path d="M177.7 1291.9L180.3 1279.1L186.1 1283.5L188.3 1278.8L261.4 1324.8L338.3 1369.7L420 1421.1L800 1650.6L827.8 1669.2L860.5 1689.3L900.7 1713.2L940.9 1738.3L956 1744.6L966.7 1750.9L971.1 1747.1L976.1 1745.8L979.8 1737L984.9 1734.5L986.1 1727L993.7 1723.2L997.4 1715.7L999.3 1699.3L1001.8 1690.6L1002.5 1665.4L1003.5 1617.7L1004 1292.5" stroke="#6cc3a0" stroke-width="4.7"/>
<path d="M177.7 1293.6L212 1314.5L213 1309.5L223.8 1318.3L278.8 1350.1L344.1 1388.6L377.4 1408.8L420 1434.9L800 1664.4L802.7 1666.7L827.8 1680.5L835.4 1684.3L847.9 1686.2L860.5 1695.6L880.6 1706.9L900.7 1716.9L920.8 1726.4L922.1 1723.8L938.4 1733.9L940.9 1732.6L951 1740.2L952.8 1725.7L958.5 1723.8L969.8 1731.4L971.1 1716.9L978.6 1722L981.1 1694.3L984.9 1696.8L986.1 1688L988.6 1689.9L990.5 1666.1L993.7 1667.9L994.3 1654.1L996.8 1655.4L997.4 1629L1000.6 1629L1001.2 1580L1003.5 1292.5" stroke="#f53a3b" stroke-width="4.7"/>
<path d="M177.7 1293.6L226.7 1323.3L229.6 1321.2L239.7 1325.5L241.2 1324.1L261.4 1340L265.1 1337.8L278.8 1341.4L307.8 1359.6L420 1421.1L760 1627.7L797.7 1648.5L804 1649.7L835.4 1666.7L845.4 1668.6L855.5 1673.6L870.6 1680.5L879.3 1684.3L883.7 1681.1L902 1693.1L907.6 1694.9L908.9 1691.2L930.9 1705.6L932.1 1702.5L951 1715.7L952.8 1711.9L968.5 1722L975.5 1726.4L976.1 1711.9L987.4 1719.4L987.4 1706.9L991.2 1709.4L992.4 1683L995.6 1683L996.2 1660.4L1000.6 1662.9L1001.2 1617.7L1003.1 1580L1004 1292.5" stroke="#965aa2" stroke-width="4.7"/>
</g>
<rect x="186.4" y="1635.3" width="106.3" height="28.7" fill="#d2d2d2"/>
<rect x="295.9" y="1635.3" width="94.1" height="28.7" fill="#d2d2d2"/>
<rect x="393.1" y="1635.3" width="180" height="28.7" fill="#d2d2d2"/>
<rect x="186.4" y="1666.3" width="106.3" height="29.7" fill="#fafafa"/>
<rect x="295.9" y="1666.3" width="94.1" height="29.7" fill="#fafafa"/>
<rect x="393.1" y="1666.3" width="180" height="29.7" fill="#fafafa"/>
<rect x="186.4" y="1698" width="106.3" height="29.2" fill="#ebebeb"/>
<rect x="295.9" y="1698" width="94.1" height="29.2" fill="#ebebeb"/>
<rect x="393.1" y="1698" width="180" height="29.2" fill="#ebebeb"/>
<rect x="186.4" y="1729.3" width="106.3" height="28.7" fill="#fafafa"/>
<rect x="295.9" y="1729.3" width="94.1" height="28.7" fill="#fafafa"/>
<rect x="393.1" y="1729.3" width="180" height="28.7" fill="#fafafa"/>
<text x="239.6" y="1656.6" font-size="20.4" fill="#000" text-anchor="middle" font-weight="bold">NES</text>
<text x="342.9" y="1656.6" font-size="20.4" fill="#000" text-anchor="middle" font-weight="bold">Pvalue</text>
<text x="483.1" y="1656.6" font-size="20.4" fill="#000" text-anchor="middle" font-weight="bold">Adjusted Pvalue</text>
<text x="239.6" y="1688.8" font-size="20.4" fill="#000" text-anchor="middle">−1.86380</text>
<text x="342.9" y="1688.8" font-size="20.4" fill="#000" text-anchor="middle">&lt; 0.001</text>
<text x="483.1" y="1688.8" font-size="20.4" fill="#000" text-anchor="middle">0.01054</text>
<text x="239.6" y="1720" font-size="20.4" fill="#000" text-anchor="middle">−1.82334</text>
<text x="342.9" y="1720" font-size="20.4" fill="#000" text-anchor="middle">0.00232</text>
<text x="483.1" y="1720" font-size="20.4" fill="#000" text-anchor="middle">0.03050</text>
<text x="239.6" y="1751.3" font-size="20.4" fill="#000" text-anchor="middle">−1.76674</text>
<text x="342.9" y="1751.3" font-size="20.4" fill="#000" text-anchor="middle">0.00518</text>
<text x="483.1" y="1751.3" font-size="20.4" fill="#000" text-anchor="middle">0.04305</text>
<rect x="177.3" y="1254.8" width="827.1" height="528.2" fill="none" stroke="#333" stroke-width="1.8"/>
<text x="162.8" y="1301.2" font-size="25.3" fill="#4d4d4d" text-anchor="end">0.00</text>
<text x="162.8" y="1428.1" font-size="25.3" fill="#4d4d4d" text-anchor="end">−0.25</text>
<text x="162.8" y="1555" font-size="25.3" fill="#4d4d4d" text-anchor="end">−0.50</text>
<text x="162.8" y="1681.9" font-size="25.3" fill="#4d4d4d" text-anchor="end">−0.75</text>
<path d="M169.3 1292.5H177.3M169.3 1419.4H177.3M169.3 1546.3H177.3M169.3 1673.2H177.3" stroke="#333" stroke-width="1.8" fill="none"/>
<text transform="translate(82 1710.3) rotate(-90)" font-size="32" fill="#000">Running Enrichment Score</text>
<path d="M184.8 1792.6V1896.9M261.4 1792.6V1896.9M293.7 1792.6V1896.9M310.4 1792.6V1896.9M490.9 1792.6V1896.9M601.5 1792.6V1896.9M652.1 1792.6V1896.9M657 1792.6V1896.9M658.3 1792.6V1896.9M659.6 1792.6V1896.9M710.6 1792.6V1896.9M804.7 1792.6V1896.9M810.9 1792.6V1896.9M828.5 1792.6V1896.9M848 1792.6V1896.9M861 1792.6V1896.9M871.3 1792.6V1896.9M946.8 1792.6V1896.9M951.6 1792.6V1896.9M957.7 1792.6V1896.9" stroke="#6cc3a0" stroke-width="1.95" fill="none"/>
<path d="M966.5 1792.6V1896.9M967.6 1792.6V1896.9M968.7 1792.6V1896.9M969.8 1792.6V1896.9M970.9 1792.6V1896.9M972 1792.6V1896.9M974.9 1792.6V1896.9M976 1792.6V1896.9M977.1 1792.6V1896.9M978.2 1792.6V1896.9M979.3 1792.6V1896.9M980.4 1792.6V1896.9M981.5 1792.6V1896.9M982.6 1792.6V1896.9M983.7 1792.6V1896.9M984.8 1792.6V1896.9M985.9 1792.6V1896.9M988.5 1792.6V1896.9M989.9 1792.6V1896.9M991.2 1792.6V1896.9M994.2 1792.6V1896.9M995.3 1792.6V1896.9M996.4 1792.6V1896.9M997.5 1792.6V1896.9M998.6 1792.6V1896.9M999.7 1792.6V1896.9M1000.8 1792.6V1896.9M1001.9 1792.6V1896.9M1003 1792.6V1896.9" stroke="#6cc3a0" stroke-width="1.25" fill="none"/>
<rect x="177.3" y="1792.6" width="827.1" height="104.3" fill="none" stroke="#333" stroke-width="1.8"/>
<path d="M210.4 1905.7V2009M276.3 1905.7V2009M342.1 1905.7V2009M377.2 1905.7V2009M494 1905.7V2009M592.1 1905.7V2009M592.1 1905.7V2009M657 1905.7V2009M670.4 1905.7V2009M687.3 1905.7V2009M704 1905.7V2009M714.1 1905.7V2009M727.8 1905.7V2009M744.9 1905.7V2009M748.4 1905.7V2009M751.5 1905.7V2009M753.7 1905.7V2009M782.7 1905.7V2009M804.7 1905.7V2009M828.9 1905.7V2009M830.7 1905.7V2009M836.2 1905.7V2009M838.4 1905.7V2009M840.6 1905.7V2009M842.8 1905.7V2009M845 1905.7V2009M847.2 1905.7V2009M863 1905.7V2009M880.8 1905.7V2009M901.5 1905.7V2009M909.4 1905.7V2009M919.7 1905.7V2009M921.5 1905.7V2009M940.6 1905.7V2009M951.6 1905.7V2009M953.8 1905.7V2009M957.7 1905.7V2009M969.6 1905.7V2009M971.8 1905.7V2009M979.1 1905.7V2009M981.3 1905.7V2009M985.7 1905.7V2009M988.5 1905.7V2009M991.6 1905.7V2009M994.5 1905.7V2009M996.7 1905.7V2009M999.5 1905.7V2009M1002.2 1905.7V2009" stroke="#f53a3b" stroke-width="1.95" fill="none"/>
<rect x="177.3" y="1905.7" width="827.1" height="103.3" fill="none" stroke="#333" stroke-width="1.8"/>
<path d="M225.1 2017.8V2122M237.2 2017.8V2122M262.9 2017.8V2122M269.9 2017.8V2122M276.3 2017.8V2122M306.9 2017.8V2122M332.8 2017.8V2122M342.1 2017.8V2122M355.7 2017.8V2122M373.9 2017.8V2122M429.6 2017.8V2122M520.6 2017.8V2122M643.3 2017.8V2122M649.9 2017.8V2122M651.7 2017.8V2122M657 2017.8V2122M658.7 2017.8V2122M660 2017.8V2122M669.7 2017.8V2122M691.7 2017.8V2122M698.3 2017.8V2122M703.6 2017.8V2122M725.1 2017.8V2122M736.1 2017.8V2122M739.4 2017.8V2122M749.7 2017.8V2122M770.2 2017.8V2122M781.8 2017.8V2122M783.4 2017.8V2122M799.2 2017.8V2122M801.6 2017.8V2122M804.3 2017.8V2122M810.9 2017.8V2122M816.4 2017.8V2122M828.9 2017.8V2122M835.1 2017.8V2122M839 2017.8V2122M841.7 2017.8V2122M843.9 2017.8V2122M851.5 2017.8V2122M853.7 2017.8V2122M863.6 2017.8V2122M870.2 2017.8V2122M878.6 2017.8V2122M880.8 2017.8V2122M883 2017.8V2122M884.5 2017.8V2122M902.1 2017.8V2122M908.3 2017.8V2122M931.4 2017.8V2122M952.7 2017.8V2122M975.8 2017.8V2122M986.8 2017.8V2122M990.1 2017.8V2122M992.3 2017.8V2122M994.5 2017.8V2122M997.8 2017.8V2122M1003.3 2017.8V2122" stroke="#965aa2" stroke-width="1.95" fill="none"/>
<rect x="177.3" y="2017.8" width="827.1" height="104.2" fill="none" stroke="#333" stroke-width="1.8"/>
<text x="590.9" y="2164.2" font-size="32.2" fill="#000" text-anchor="middle">Rank in Ordered Dataset</text>
</g>
<g id="panelD" font-family="'Liberation Sans', Arial, Helvetica, sans-serif">
<text x="1059.5" y="1102" font-size="40" font-weight="bold" fill="#000">D</text>
<path d="M1483 1614.5L1383.5 1815M1483 1614.5L1413.5 1841.3M1483 1614.5L1450.2 1855.7M1483 1614.5L1369 1405M1483 1614.5L1404 1402M1483 1614.5L1393 1429.5M1483 1614.5L1415.7 1443.8M1483 1614.5L1377.1 1462.6M1483 1614.5L1410.1 1485.8M1483 1614.5L1402.6 1524.9M1483 1614.5L1374.2 1535.3M1483 1614.5L1387.8 1558.5M1483 1614.5L1571 1501.2M1483 1614.5L1530.7 1524.2M1483 1614.5L1662.8 1547.1M1483 1614.5L1655.5 1573.5M1483 1614.5L1665.3 1680.8M1483 1614.5L1658.3 1719M1483 1614.5L1528 1661.8M1483 1614.5L1461.5 1685.2M1483 1614.5L1487.8 1693.7M1483 1614.5L1513.3 1701M1483 1614.5L1319.6 1657" stroke="#F8766D" stroke-opacity="0.82" stroke-width="2.4" fill="none" stroke-linecap="round"/>
<path d="M1283.5 1575.5L1155.6 1691.6M1283.5 1575.5L1190.8 1775.3M1283.5 1575.5L1404 1402M1283.5 1575.5L1393 1429.5M1283.5 1575.5L1415.7 1443.8M1283.5 1575.5L1377.1 1462.6M1283.5 1575.5L1410.1 1485.8M1283.5 1575.5L1373.1 1498.3M1283.5 1575.5L1402.6 1524.9M1283.5 1575.5L1374.2 1535.3" stroke="#B79F00" stroke-opacity="0.82" stroke-width="2.4" fill="none" stroke-linecap="round"/>
<path d="M1805.7 1630.2L1871 1378.7M1805.7 1630.2L1908.8 1407.8M1805.7 1630.2L1847.5 1423.4M1805.7 1630.2L1896.8 1473.4M1805.7 1630.2L1940.7 1474.9M1805.7 1630.2L1849.3 1503.9M1805.7 1630.2L1950.5 1540.6M1805.7 1630.2L1892.5 1569.6M1805.7 1630.2L1955.6 1604.1M1805.7 1630.2L1952.7 1669.4M1805.7 1630.2L1939.3 1732.5M1805.7 1630.2L1875.4 1734.7M1805.7 1630.2L1918.6 1791.7M1805.7 1630.2L1829.7 1771M1805.7 1630.2L1888.8 1835.9M1805.7 1630.2L1797.4 1820.7M1805.7 1630.2L1856.9 1867.9M1805.7 1630.2L1785.4 1881.3M1805.7 1630.2L1822.4 1894M1805.7 1630.2L1662.8 1547.1M1805.7 1630.2L1655.5 1573.5M1805.7 1630.2L1665.3 1680.8M1805.7 1630.2L1658.3 1719" stroke="#00BA38" stroke-opacity="0.82" stroke-width="2.4" fill="none" stroke-linecap="round"/>
<path d="M1492.5 1913.9L1356.5 2065.1M1492.5 1913.9L1415 2108.8M1492.5 1913.9L1481.7 2128.8M1492.5 1913.9L1546.9 2121.4M1492.5 1913.9L1528 1661.8M1492.5 1913.9L1567.1 1672.1M1492.5 1913.9L1461.5 1685.2M1492.5 1913.9L1487.8 1693.7M1492.5 1913.9L1513.3 1701M1492.5 1913.9L1550.2 1710.3M1492.5 1913.9L1501 1856.5" stroke="#00BFC4" stroke-opacity="0.82" stroke-width="2.4" fill="none" stroke-linecap="round"/>
<path d="M1522.5 1442.6L1448.9 1259.3M1522.5 1442.6L1466.1 1218.2M1522.5 1442.6L1496.4 1196.4M1522.5 1442.6L1534.6 1185M1522.5 1442.6L1571.1 1198.6M1522.5 1442.6L1603.9 1218.2M1522.5 1442.6L1632.5 1258.6M1522.5 1442.6L1530.4 1246.4M1522.5 1442.6L1488.6 1288.6M1522.5 1442.6L1590 1282.1M1522.5 1442.6L1544.3 1316.4M1522.5 1442.6L1644.6 1308.9M1522.5 1442.6L1600.4 1359.3M1522.5 1442.6L1649.3 1364.6M1522.5 1442.6L1632.1 1417.1M1522.5 1442.6L1393 1429.5M1522.5 1442.6L1415.7 1443.8M1522.5 1442.6L1377.1 1462.6M1522.5 1442.6L1410.1 1485.8M1522.5 1442.6L1373.1 1498.3M1522.5 1442.6L1402.6 1524.9M1522.5 1442.6L1374.2 1535.3M1522.5 1442.6L1387.8 1558.5M1522.5 1442.6L1571 1501.2M1522.5 1442.6L1530.7 1524.2M1522.5 1442.6L1567.4 1548.2M1522.5 1442.6L1662.8 1547.1M1522.5 1442.6L1655.5 1573.5M1522.5 1442.6L1528 1661.8M1522.5 1442.6L1567.1 1672.1M1522.5 1442.6L1487.8 1693.7M1522.5 1442.6L1513.3 1701M1522.5 1442.6L1550.2 1710.3" stroke="#619CFF" stroke-opacity="0.82" stroke-width="2.4" fill="none" stroke-linecap="round"/>
<path d="M1269.7 1401.5L1269.6 1140.4M1269.7 1401.5L1237.5 1163.6M1269.7 1401.5L1212.5 1201.1M1269.7 1401.5L1182.9 1233.9M1269.7 1401.5L1166.1 1285.7M1269.7 1401.5L1146.4 1335.4M1269.7 1401.5L1138.6 1393.2M1269.7 1401.5L1134.6 1450.4M1269.7 1401.5L1138.6 1507.1M1269.7 1401.5L1149.3 1561.8M1269.7 1401.5L1369 1405M1269.7 1401.5L1404 1402M1269.7 1401.5L1393 1429.5M1269.7 1401.5L1415.7 1443.8M1269.7 1401.5L1377.1 1462.6M1269.7 1401.5L1410.1 1485.8M1269.7 1401.5L1373.1 1498.3M1269.7 1401.5L1402.6 1524.9M1269.7 1401.5L1374.2 1535.3M1269.7 1401.5L1387.8 1558.5M1269.7 1401.5L1319.6 1657" stroke="#F564E3" stroke-opacity="0.82" stroke-width="2.4" fill="none" stroke-linecap="round"/>
<g fill="#B3B3B3">
<circle cx="1383.5" cy="1815" r="9.5"/>
<circle cx="1413.5" cy="1841.3" r="9.5"/>
<circle cx="1450.2" cy="1855.7" r="9.5"/>
<circle cx="1155.6" cy="1691.6" r="9.5"/>
<circle cx="1190.8" cy="1775.3" r="9.5"/>
<circle cx="1871" cy="1378.7" r="9.5"/>
<circle cx="1908.8" cy="1407.8" r="9.5"/>
<circle cx="1847.5" cy="1423.4" r="9.5"/>
<circle cx="1896.8" cy="1473.4" r="9.5"/>
<circle cx="1940.7" cy="1474.9" r="9.5"/>
<circle cx="1849.3" cy="1503.9" r="9.5"/>
<circle cx="1950.5" cy="1540.6" r="9.5"/>
<circle cx="1892.5" cy="1569.6" r="9.5"/>
<circle cx="1955.6" cy="1604.1" r="9.5"/>
<circle cx="1952.7" cy="1669.4" r="9.5"/>
<circle cx="1939.3" cy="1732.5" r="9.5"/>
<circle cx="1875.4" cy="1734.7" r="9.5"/>
<circle cx="1918.6" cy="1791.7" r="9.5"/>
<circle cx="1829.7" cy="1771" r="9.5"/>
<circle cx="1888.8" cy="1835.9" r="9.5"/>
<circle cx="1797.4" cy="1820.7" r="9.5"/>
<circle cx="1856.9" cy="1867.9" r="9.5"/>
<circle cx="1785.4" cy="1881.3" r="9.5"/>
<circle cx="1822.4" cy="1894" r="9.5"/>
<circle cx="1356.5" cy="2065.1" r="9.5"/>
<circle cx="1415" cy="2108.8" r="9.5"/>
<circle cx="1481.7" cy="2128.8" r="9.5"/>
<circle cx="1546.9" cy="2121.4" r="9.5"/>
<circle cx="1448.9" cy="1259.3" r="9.5"/>
<circle cx="1466.1" cy="1218.2" r="9.5"/>
<circle cx="1496.4" cy="1196.4" r="9.5"/>
<circle cx="1534.6" cy="1185" r="9.5"/>
<circle cx="1571.1" cy="1198.6" r="9.5"/>
<circle cx="1603.9" cy="1218.2" r="9.5"/>
<circle cx="1632.5" cy="1258.6" r="9.5"/>
<circle cx="1530.4" cy="1246.4" r="9.5"/>
<circle cx="1488.6" cy="1288.6" r="9.5"/>
<circle cx="1590" cy="1282.1" r="9.5"/>
<circle cx="1544.3" cy="1316.4" r="9.5"/>
<circle cx="1644.6" cy="1308.9" r="9.5"/>
<circle cx="1600.4" cy="1359.3" r="9.5"/>
<circle cx="1649.3" cy="1364.6" r="9.5"/>
<circle cx="1632.1" cy="1417.1" r="9.5"/>
<circle cx="1269.6" cy="1140.4" r="9.5"/>
<circle cx="1237.5" cy="1163.6" r="9.5"/>
<circle cx="1212.5" cy="1201.1" r="9.5"/>
<circle cx="1182.9" cy="1233.9" r="9.5"/>
<circle cx="1166.1" cy="1285.7" r="9.5"/>
<circle cx="1146.4" cy="1335.4" r="9.5"/>
<circle cx="1138.6" cy="1393.2" r="9.5"/>
<circle cx="1134.6" cy="1450.4" r="9.5"/>
<circle cx="1138.6" cy="1507.1" r="9.5"/>
<circle cx="1149.3" cy="1561.8" r="9.5"/>
<circle cx="1369" cy="1405" r="9.5"/>
<circle cx="1404" cy="1402" r="9.5"/>
<circle cx="1393" cy="1429.5" r="9.5"/>
<circle cx="1415.7" cy="1443.8" r="9.5"/>
<circle cx="1377.1" cy="1462.6" r="9.5"/>
<circle cx="1410.1" cy="1485.8" r="9.5"/>
<circle cx="1373.1" cy="1498.3" r="9.5"/>
<circle cx="1402.6" cy="1524.9" r="9.5"/>
<circle cx="1374.2" cy="1535.3" r="9.5"/>
<circle cx="1387.8" cy="1558.5" r="9.5"/>
<circle cx="1571" cy="1501.2" r="9.5"/>
<circle cx="1530.7" cy="1524.2" r="9.5"/>
<circle cx="1567.4" cy="1548.2" r="9.5"/>
<circle cx="1662.8" cy="1547.1" r="9.5"/>
<circle cx="1655.5" cy="1573.5" r="9.5"/>
<circle cx="1528" cy="1661.8" r="9.5"/>
<circle cx="1567.1" cy="1672.1" r="9.5"/>
<circle cx="1461.5" cy="1685.2" r="9.5"/>
<circle cx="1487.8" cy="1693.7" r="9.5"/>
<circle cx="1513.3" cy="1701" r="9.5"/>
<circle cx="1550.2" cy="1710.3" r="9.5"/>
<circle cx="1665.3" cy="1680.8" r="9.5"/>
<circle cx="1658.3" cy="1719" r="9.5"/>
<circle cx="1501" cy="1856.5" r="9.5"/>
<circle cx="1319.6" cy="1657" r="9.5"/>
</g>
<g fill="#E5C494">
<circle cx="1483" cy="1614.5" r="20.3"/>
<circle cx="1283.5" cy="1575.5" r="14.8"/>
<circle cx="1805.7" cy="1630.2" r="20"/>
<circle cx="1492.5" cy="1913.9" r="15.4"/>
<circle cx="1522.5" cy="1442.6" r="22"/>
<circle cx="1269.7" cy="1401.5" r="17"/>
</g>
<g font-size="34.15" stroke-linejoin="round">
<text x="1238.9" y="1410" fill="#fff" stroke="#fff" stroke-width="4.8">Th1 and Th2 cell differentiation</text>
<text x="1451.5" y="1481.4" fill="#fff" stroke="#fff" stroke-width="4.8">Phagosome</text>
<text x="1197.5" y="1578.9" fill="#fff" stroke="#fff" stroke-width="4.8">Intestinal immune network for IgA production</text>
<text x="1177.8" y="1651.9" fill="#fff" stroke="#fff" stroke-width="4.8">Antigen processing and presentation</text>
<text x="1748.9" y="1667" fill="#fff" stroke="#fff" stroke-width="4.8">Lysosome</text>
<text x="1183.9" y="1952.1" fill="#fff" stroke="#fff" stroke-width="4.8">Natural killer cell mediated cytotoxicity</text>
<text x="1238.9" y="1410" fill="#f573e6" stroke="#f573e6" stroke-width="0.75">Th1 and Th2 cell differentiation</text>
<text x="1451.5" y="1481.4" fill="#000">Phagosome</text>
<text x="1197.5" y="1578.9" fill="#000">Intestinal immune network for IgA production</text>
<text x="1177.8" y="1651.9" fill="#f8766d" stroke="#f8766d" stroke-width="0.75">Antigen processing and presentation</text>
<text x="1748.9" y="1667" fill="#000">Lysosome</text>
<text x="1183.9" y="1952.1" fill="#26c4c8" stroke="#26c4c8" stroke-width="0.75">Natural killer cell mediated cytotoxicity</text>
</g>
<text x="2011" y="1405.2" font-size="26" fill="#000">size</text>
<circle cx="2036.6" cy="1444.4" r="15.8" fill="#000"/>
<text x="2077" y="1452" font-size="21.9" fill="#000">10</text>
<circle cx="2036.6" cy="1489.7" r="19.1" fill="#000"/>
<text x="2077" y="1497.3" font-size="21.9" fill="#000">20</text>
<circle cx="2036.6" cy="1540.6" r="21.7" fill="#000"/>
<text x="2077" y="1548.2" font-size="21.9" fill="#000">30</text>
<text x="2011" y="1607.8" font-size="26" fill="#000">category</text>
<path d="M2014.6 1647.1H2048.7" stroke="#F8766D" stroke-width="1.9" fill="none"/>
<text x="2066.8" y="1654.7" font-size="21.9" fill="#000">Antigen processing and presentation</text>
<path d="M2014.6 1690.7H2048.7" stroke="#B79F00" stroke-width="1.9" fill="none"/>
<text x="2066.8" y="1698.3" font-size="21.9" fill="#000">Intestinal immune network for IgA production</text>
<path d="M2014.6 1734.3H2048.7" stroke="#00BA38" stroke-width="1.9" fill="none"/>
<text x="2066.8" y="1741.9" font-size="21.9" fill="#000">Lysosome</text>
<path d="M2014.6 1777.8H2048.7" stroke="#00BFC4" stroke-width="1.9" fill="none"/>
<text x="2066.8" y="1785.4" font-size="21.9" fill="#000">Natural killer cell mediated cytotoxicity</text>
<path d="M2014.6 1821.4H2048.7" stroke="#619CFF" stroke-width="1.9" fill="none"/>
<text x="2066.8" y="1829" font-size="21.9" fill="#000">Phagosome</text>
<path d="M2014.6 1865H2048.7" stroke="#F564E3" stroke-width="1.9" fill="none"/>
<text x="2066.8" y="1872.6" font-size="21.9" fill="#000">Th1 and Th2 cell differentiation</text>
</g>
</svg>
</body></html>
